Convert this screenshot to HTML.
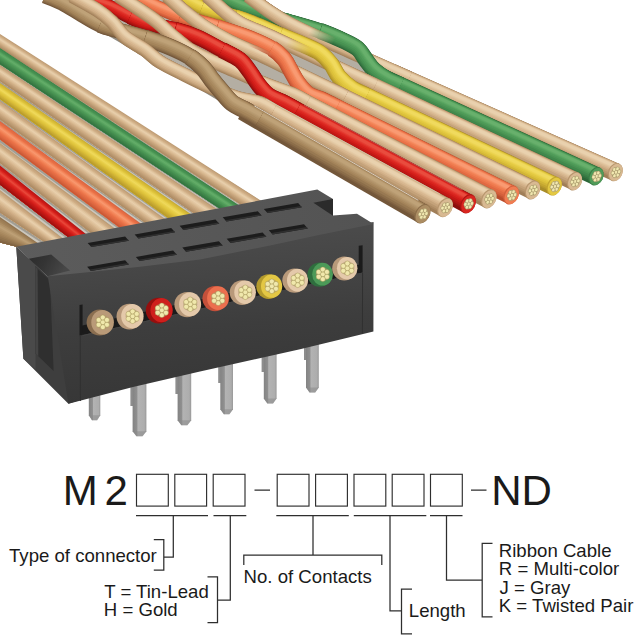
<!DOCTYPE html>
<html><head><meta charset="utf-8"><title>M2 ribbon cable</title>
<style>
html,body{margin:0;padding:0;background:#fff}
body{width:640px;height:640px;overflow:hidden}
svg{display:block}
text{font-family:"Liberation Sans",sans-serif;fill:#1a1a1a}
</style></head><body>
<svg width="640" height="640" viewBox="0 0 640 640">
<rect width="640" height="640" fill="#fff"/>
<g id="backcable">
<polygon points="50,0 262,0 300,22 385,62 300,132 236,108 150,56" fill="#b4aea3"/>
<polygon points="47,0 58,0 150,54 238,106 236,111 148,59" fill="#8f897e"/>
<defs><path id="w1" d="M392,72.7L615.3,172.1"/></defs><g fill="none" stroke-linecap="butt" stroke-linejoin="round"><use href="#w1" stroke="#a07e58" stroke-width="18.2" transform="translate(0,0)"/><use href="#w1" stroke="#ac8a63" stroke-width="15.1" transform="translate(0.6,-1.2)"/><use href="#w1" stroke="#b8966e" stroke-width="13.6" transform="translate(0.9,-1.8)"/><use href="#w1" stroke="#c4a27a" stroke-width="11.5" transform="translate(1.3,-2.5)"/><use href="#w1" stroke="#d0ae86" stroke-width="9.3" transform="translate(1.7,-3.3)"/><use href="#w1" stroke="#d8b891" stroke-width="7.5" transform="translate(1.9,-3.7)"/><use href="#w1" stroke="#dfc29c" stroke-width="5.7" transform="translate(2.1,-4.2)"/><use href="#w1" stroke="#e4caa5" stroke-width="4.3" transform="translate(2.3,-4.5)"/><use href="#w1" stroke="#e9d1ae" stroke-width="3" transform="translate(2.4,-4.7)"/></g>
<g transform="translate(615.3,172.1) rotate(24)"><ellipse rx="7.2" ry="9.5" fill="#b8966e"/><ellipse cx="0.6" rx="6.5" ry="8.8" fill="#d8b992"/></g><g transform="translate(616,172.3) rotate(24) scale(0.8,1)"><circle r="5.6" fill="#b9a878"/><circle r="2" fill="#f1e8b0" stroke="#8a7a50" stroke-width="0.4"/><circle cx="3.3" cy="1.9" r="2" fill="#f1e8b0" stroke="#8a7a50" stroke-width="0.4"/><circle cx="0" cy="3.8" r="2" fill="#f1e8b0" stroke="#8a7a50" stroke-width="0.4"/><circle cx="-3.3" cy="1.9" r="2" fill="#f1e8b0" stroke="#8a7a50" stroke-width="0.4"/><circle cx="-3.3" cy="-1.9" r="2" fill="#f1e8b0" stroke="#8a7a50" stroke-width="0.4"/><circle cx="0" cy="-3.8" r="2" fill="#f1e8b0" stroke="#8a7a50" stroke-width="0.4"/><circle cx="3.3" cy="-1.9" r="2" fill="#f1e8b0" stroke="#8a7a50" stroke-width="0.4"/></g>
<defs><path id="w2" d="M248,-4C251.7,-1.3 263,7.3 270,12C277,16.7 281.5,19.5 290,24C298.5,28.5 310.8,34.1 321,38.7C331.2,43.4 338.7,46.6 351,52.1C363.3,57.6 385.3,67.4 395,71.7C404.7,76 406.7,76.9 409,77.9"/></defs><g fill="none" stroke-linecap="butt" stroke-linejoin="round"><use href="#w2" stroke="#a07e58" stroke-width="13.8" transform="translate(0,0)"/><use href="#w2" stroke="#ac8a63" stroke-width="13" transform="translate(0.1,-0.2)"/><use href="#w2" stroke="#b8966e" stroke-width="12" transform="translate(0.3,-0.5)"/><use href="#w2" stroke="#c4a27a" stroke-width="10.8" transform="translate(0.4,-0.9)"/><use href="#w2" stroke="#d0ae86" stroke-width="9.6" transform="translate(0.6,-1.2)"/><use href="#w2" stroke="#d8b891" stroke-width="7.7" transform="translate(0.9,-1.7)"/><use href="#w2" stroke="#dfc29c" stroke-width="5.9" transform="translate(1.1,-2.2)"/><use href="#w2" stroke="#e4caa5" stroke-width="4.4" transform="translate(1.2,-2.5)"/><use href="#w2" stroke="#e9d1ae" stroke-width="2.9" transform="translate(1.3,-2.6)"/></g>
<defs><path id="w3" d="M384,78.7L596,176.2"/></defs><g fill="none" stroke-linecap="butt" stroke-linejoin="round"><use href="#w3" stroke="#2c6638" stroke-width="18.4" transform="translate(0,0)"/><use href="#w3" stroke="#33723f" stroke-width="15.3" transform="translate(0.6,-1.2)"/><use href="#w3" stroke="#3a7d46" stroke-width="13.7" transform="translate(0.9,-1.8)"/><use href="#w3" stroke="#41884c" stroke-width="11.6" transform="translate(1.3,-2.5)"/><use href="#w3" stroke="#489252" stroke-width="9.4" transform="translate(1.7,-3.3)"/><use href="#w3" stroke="#4f9a58" stroke-width="7.6" transform="translate(1.9,-3.8)"/><use href="#w3" stroke="#56a25e" stroke-width="5.7" transform="translate(2.2,-4.3)"/><use href="#w3" stroke="#5fa965" stroke-width="4.4" transform="translate(2.3,-4.5)"/><use href="#w3" stroke="#68b06c" stroke-width="3" transform="translate(2.4,-4.8)"/></g>
<g transform="translate(596,176.2) rotate(24.7)"><ellipse rx="7.2" ry="9.6" fill="#3a7d46"/><ellipse cx="0.6" rx="6.5" ry="8.9" fill="#509b59"/></g><g transform="translate(596.7,176.4) rotate(24.7) scale(0.8,1)"><circle r="5.6" fill="#b9a878"/><circle r="2" fill="#f1e8b0" stroke="#8a7a50" stroke-width="0.4"/><circle cx="3.3" cy="1.9" r="2" fill="#f1e8b0" stroke="#8a7a50" stroke-width="0.4"/><circle cx="0" cy="3.8" r="2" fill="#f1e8b0" stroke="#8a7a50" stroke-width="0.4"/><circle cx="-3.3" cy="1.9" r="2" fill="#f1e8b0" stroke="#8a7a50" stroke-width="0.4"/><circle cx="-3.3" cy="-1.9" r="2" fill="#f1e8b0" stroke="#8a7a50" stroke-width="0.4"/><circle cx="0" cy="-3.8" r="2" fill="#f1e8b0" stroke="#8a7a50" stroke-width="0.4"/><circle cx="3.3" cy="-1.9" r="2" fill="#f1e8b0" stroke="#8a7a50" stroke-width="0.4"/></g>
<defs><path id="w4" d="M222,-3C225.3,-1.5 235.3,3.4 242,6C248.7,8.6 254.8,10.1 262,12.5C269.2,14.9 275.3,17.4 285,20.5"/></defs><g fill="none" stroke-linecap="butt" stroke-linejoin="round"><use href="#w4" stroke="#2c6638" stroke-width="13.8" transform="translate(0,0)"/><use href="#w4" stroke="#33723f" stroke-width="13" transform="translate(0.1,-0.2)"/><use href="#w4" stroke="#3a7d46" stroke-width="12" transform="translate(0.3,-0.5)"/><use href="#w4" stroke="#41884c" stroke-width="10.8" transform="translate(0.4,-0.9)"/><use href="#w4" stroke="#489252" stroke-width="9.6" transform="translate(0.6,-1.2)"/><use href="#w4" stroke="#4f9a58" stroke-width="7.7" transform="translate(0.9,-1.7)"/><use href="#w4" stroke="#56a25e" stroke-width="5.9" transform="translate(1.1,-2.2)"/><use href="#w4" stroke="#5fa965" stroke-width="4.4" transform="translate(1.2,-2.5)"/><use href="#w4" stroke="#68b06c" stroke-width="2.9" transform="translate(1.3,-2.6)"/></g>
<defs><path id="w5" d="M262,12.5C269.2,14.9 275.3,17.4 285,20.5C294.7,23.6 310,27.5 320,31"/></defs><g fill="none" stroke-linecap="butt" stroke-linejoin="round"><use href="#w5" stroke="#2c6638" stroke-width="14.6" transform="translate(0,0)"/><use href="#w5" stroke="#33723f" stroke-width="13.7" transform="translate(0.1,-0.3)"/><use href="#w5" stroke="#3a7d46" stroke-width="12.7" transform="translate(0.3,-0.6)"/><use href="#w5" stroke="#41884c" stroke-width="11.4" transform="translate(0.5,-0.9)"/><use href="#w5" stroke="#489252" stroke-width="10.1" transform="translate(0.6,-1.3)"/><use href="#w5" stroke="#4f9a58" stroke-width="8.2" transform="translate(0.9,-1.8)"/><use href="#w5" stroke="#56a25e" stroke-width="6.3" transform="translate(1.2,-2.3)"/><use href="#w5" stroke="#5fa965" stroke-width="4.7" transform="translate(1.3,-2.6)"/><use href="#w5" stroke="#68b06c" stroke-width="3.1" transform="translate(1.4,-2.8)"/></g>
<defs><path id="w6" d="M285,20.5C294.7,23.6 310,27.5 320,31C330,34.5 338.7,38.5 345,41.5"/></defs><g fill="none" stroke-linecap="butt" stroke-linejoin="round"><use href="#w6" stroke="#2c6638" stroke-width="15.4" transform="translate(0,0)"/><use href="#w6" stroke="#33723f" stroke-width="14.5" transform="translate(0.1,-0.3)"/><use href="#w6" stroke="#3a7d46" stroke-width="13.4" transform="translate(0.3,-0.6)"/><use href="#w6" stroke="#41884c" stroke-width="12" transform="translate(0.5,-1)"/><use href="#w6" stroke="#489252" stroke-width="10.7" transform="translate(0.7,-1.3)"/><use href="#w6" stroke="#4f9a58" stroke-width="8.6" transform="translate(1,-1.9)"/><use href="#w6" stroke="#56a25e" stroke-width="6.6" transform="translate(1.2,-2.4)"/><use href="#w6" stroke="#5fa965" stroke-width="4.9" transform="translate(1.4,-2.7)"/><use href="#w6" stroke="#68b06c" stroke-width="3.2" transform="translate(1.5,-2.9)"/></g>
<defs><path id="w7" d="M320,31C330,34.5 338.7,38.5 345,41.5C351.3,44.5 354.5,45.9 358,49C361.5,52.1 363.3,56.5 366,60C368.7,63.5 370.6,66.9 374,70C377.4,73.1 382.1,76.2 386.5,78.7C390.9,81.2 398.2,84 400.5,85.1"/></defs><g fill="none" stroke-linecap="butt" stroke-linejoin="round"><use href="#w7" stroke="#2c6638" stroke-width="16.2" transform="translate(0,0)"/><use href="#w7" stroke="#33723f" stroke-width="15.2" transform="translate(0.1,-0.3)"/><use href="#w7" stroke="#3a7d46" stroke-width="14.1" transform="translate(0.3,-0.6)"/><use href="#w7" stroke="#41884c" stroke-width="12.7" transform="translate(0.5,-1)"/><use href="#w7" stroke="#489252" stroke-width="11.2" transform="translate(0.7,-1.4)"/><use href="#w7" stroke="#4f9a58" stroke-width="9.1" transform="translate(1,-2)"/><use href="#w7" stroke="#56a25e" stroke-width="6.9" transform="translate(1.3,-2.6)"/><use href="#w7" stroke="#5fa965" stroke-width="5.2" transform="translate(1.5,-2.9)"/><use href="#w7" stroke="#68b06c" stroke-width="3.4" transform="translate(1.6,-3.1)"/></g>
<defs><linearGradient id="og1" gradientUnits="userSpaceOnUse" x1="309" y1="33" x2="333" y2="44.1"><stop offset="0" stop-color="#fff"/><stop offset="1" stop-color="#000"/></linearGradient><mask id="ov1" maskUnits="userSpaceOnUse" x="0" y="-10" width="420" height="220"><rect x="0" y="-10" width="420" height="220" fill="url(#og1)"/></mask></defs>
<g fill="none" stroke-linecap="butt" stroke-linejoin="round" mask="url(#ov1)"><use href="#w2" stroke="#a07e58" stroke-width="13.8" transform="translate(0,0)"/><use href="#w2" stroke="#ac8a63" stroke-width="13" transform="translate(0.1,-0.2)"/><use href="#w2" stroke="#b8966e" stroke-width="12" transform="translate(0.3,-0.5)"/><use href="#w2" stroke="#c4a27a" stroke-width="10.8" transform="translate(0.4,-0.9)"/><use href="#w2" stroke="#d0ae86" stroke-width="9.6" transform="translate(0.6,-1.2)"/><use href="#w2" stroke="#d8b891" stroke-width="7.7" transform="translate(0.9,-1.7)"/><use href="#w2" stroke="#dfc29c" stroke-width="5.9" transform="translate(1.1,-2.2)"/><use href="#w2" stroke="#e4caa5" stroke-width="4.4" transform="translate(1.2,-2.5)"/><use href="#w2" stroke="#e9d1ae" stroke-width="2.9" transform="translate(1.3,-2.6)"/></g>
<defs><path id="w8" d="M358,79.9L574.5,181.2"/></defs><g fill="none" stroke-linecap="butt" stroke-linejoin="round"><use href="#w8" stroke="#a07e58" stroke-width="18.6" transform="translate(0,0)"/><use href="#w8" stroke="#ac8a63" stroke-width="15.5" transform="translate(0.6,-1.3)"/><use href="#w8" stroke="#b8966e" stroke-width="13.9" transform="translate(0.9,-1.8)"/><use href="#w8" stroke="#c4a27a" stroke-width="11.7" transform="translate(1.3,-2.6)"/><use href="#w8" stroke="#d0ae86" stroke-width="9.5" transform="translate(1.7,-3.4)"/><use href="#w8" stroke="#d8b891" stroke-width="7.6" transform="translate(1.9,-3.8)"/><use href="#w8" stroke="#dfc29c" stroke-width="5.8" transform="translate(2.2,-4.3)"/><use href="#w8" stroke="#e4caa5" stroke-width="4.4" transform="translate(2.3,-4.6)"/><use href="#w8" stroke="#e9d1ae" stroke-width="3.1" transform="translate(2.4,-4.8)"/></g>
<g transform="translate(574.5,181.2) rotate(25.1)"><ellipse rx="7.2" ry="9.7" fill="#b8966e"/><ellipse cx="0.6" rx="6.5" ry="9" fill="#d8b992"/></g><g transform="translate(575.2,181.4) rotate(25.1) scale(0.8,1)"><circle r="5.6" fill="#b9a878"/><circle r="2" fill="#f1e8b0" stroke="#8a7a50" stroke-width="0.4"/><circle cx="3.3" cy="1.9" r="2" fill="#f1e8b0" stroke="#8a7a50" stroke-width="0.4"/><circle cx="0" cy="3.8" r="2" fill="#f1e8b0" stroke="#8a7a50" stroke-width="0.4"/><circle cx="-3.3" cy="1.9" r="2" fill="#f1e8b0" stroke="#8a7a50" stroke-width="0.4"/><circle cx="-3.3" cy="-1.9" r="2" fill="#f1e8b0" stroke="#8a7a50" stroke-width="0.4"/><circle cx="0" cy="-3.8" r="2" fill="#f1e8b0" stroke="#8a7a50" stroke-width="0.4"/><circle cx="3.3" cy="-1.9" r="2" fill="#f1e8b0" stroke="#8a7a50" stroke-width="0.4"/></g>
<defs><path id="w9" d="M207,-4C210,-1.3 219.2,7.3 225,12C230.8,16.7 234.8,20.1 242,24C249.2,27.9 256.6,30 268.1,35.2C279.6,40.4 295.6,48.1 311.1,55.3C326.6,62.6 350.4,73.7 361.1,78.7C371.7,83.7 372.7,84.2 375.1,85.3"/></defs><g fill="none" stroke-linecap="butt" stroke-linejoin="round"><use href="#w9" stroke="#a07e58" stroke-width="13.8" transform="translate(0,0)"/><use href="#w9" stroke="#ac8a63" stroke-width="13" transform="translate(0.1,-0.2)"/><use href="#w9" stroke="#b8966e" stroke-width="12" transform="translate(0.3,-0.5)"/><use href="#w9" stroke="#c4a27a" stroke-width="10.8" transform="translate(0.4,-0.9)"/><use href="#w9" stroke="#d0ae86" stroke-width="9.6" transform="translate(0.6,-1.2)"/><use href="#w9" stroke="#d8b891" stroke-width="7.7" transform="translate(0.9,-1.7)"/><use href="#w9" stroke="#dfc29c" stroke-width="5.9" transform="translate(1.1,-2.2)"/><use href="#w9" stroke="#e4caa5" stroke-width="4.4" transform="translate(1.2,-2.5)"/><use href="#w9" stroke="#e9d1ae" stroke-width="2.9" transform="translate(1.3,-2.6)"/></g>
<defs><path id="w10" d="M350,89.2L554.2,186.2"/></defs><g fill="none" stroke-linecap="butt" stroke-linejoin="round"><use href="#w10" stroke="#a88c28" stroke-width="18.8" transform="translate(0,0)"/><use href="#w10" stroke="#b6992c" stroke-width="15.6" transform="translate(0.6,-1.3)"/><use href="#w10" stroke="#c4a630" stroke-width="14" transform="translate(0.9,-1.8)"/><use href="#w10" stroke="#d0b335" stroke-width="11.9" transform="translate(1.3,-2.6)"/><use href="#w10" stroke="#dcc03a" stroke-width="9.6" transform="translate(1.7,-3.4)"/><use href="#w10" stroke="#e2c841" stroke-width="7.7" transform="translate(2,-3.9)"/><use href="#w10" stroke="#e8cf48" stroke-width="5.8" transform="translate(2.2,-4.4)"/><use href="#w10" stroke="#ecd453" stroke-width="4.5" transform="translate(2.3,-4.6)"/><use href="#w10" stroke="#f0da5e" stroke-width="3.1" transform="translate(2.5,-4.9)"/></g>
<g transform="translate(554.2,186.2) rotate(25.4)"><ellipse rx="7.2" ry="9.8" fill="#c4a630"/><ellipse cx="0.6" rx="6.5" ry="9.1" fill="#e3c842"/></g><g transform="translate(555,186.4) rotate(25.4) scale(0.8,1)"><circle r="5.6" fill="#b9a878"/><circle r="2" fill="#f1e8b0" stroke="#8a7a50" stroke-width="0.4"/><circle cx="3.3" cy="1.9" r="2" fill="#f1e8b0" stroke="#8a7a50" stroke-width="0.4"/><circle cx="0" cy="3.8" r="2" fill="#f1e8b0" stroke="#8a7a50" stroke-width="0.4"/><circle cx="-3.3" cy="1.9" r="2" fill="#f1e8b0" stroke="#8a7a50" stroke-width="0.4"/><circle cx="-3.3" cy="-1.9" r="2" fill="#f1e8b0" stroke="#8a7a50" stroke-width="0.4"/><circle cx="0" cy="-3.8" r="2" fill="#f1e8b0" stroke="#8a7a50" stroke-width="0.4"/><circle cx="3.3" cy="-1.9" r="2" fill="#f1e8b0" stroke="#8a7a50" stroke-width="0.4"/></g>
<defs><path id="w11" d="M178,-4C179.5,-3.3 183,-1.9 187,0C191,1.9 197,5.5 202,7.5C207,9.5 211.5,10.4 217,12"/></defs><g fill="none" stroke-linecap="butt" stroke-linejoin="round"><use href="#w11" stroke="#a88c28" stroke-width="13.8" transform="translate(0,0)"/><use href="#w11" stroke="#b6992c" stroke-width="13" transform="translate(0.1,-0.2)"/><use href="#w11" stroke="#c4a630" stroke-width="12" transform="translate(0.3,-0.5)"/><use href="#w11" stroke="#d0b335" stroke-width="10.8" transform="translate(0.4,-0.9)"/><use href="#w11" stroke="#dcc03a" stroke-width="9.6" transform="translate(0.6,-1.2)"/><use href="#w11" stroke="#e2c841" stroke-width="7.7" transform="translate(0.9,-1.7)"/><use href="#w11" stroke="#e8cf48" stroke-width="5.9" transform="translate(1.1,-2.2)"/><use href="#w11" stroke="#ecd453" stroke-width="4.4" transform="translate(1.2,-2.5)"/><use href="#w11" stroke="#f0da5e" stroke-width="2.9" transform="translate(1.3,-2.6)"/></g>
<defs><path id="w12" d="M202,7.5C207,9.5 211.5,10.4 217,12C222.5,13.6 229.2,15.2 235,17C240.8,18.8 244.5,20 252,23"/></defs><g fill="none" stroke-linecap="butt" stroke-linejoin="round"><use href="#w12" stroke="#a88c28" stroke-width="14.6" transform="translate(0,0)"/><use href="#w12" stroke="#b6992c" stroke-width="13.7" transform="translate(0.1,-0.3)"/><use href="#w12" stroke="#c4a630" stroke-width="12.7" transform="translate(0.3,-0.6)"/><use href="#w12" stroke="#d0b335" stroke-width="11.4" transform="translate(0.5,-0.9)"/><use href="#w12" stroke="#dcc03a" stroke-width="10.1" transform="translate(0.6,-1.3)"/><use href="#w12" stroke="#e2c841" stroke-width="8.2" transform="translate(0.9,-1.8)"/><use href="#w12" stroke="#e8cf48" stroke-width="6.3" transform="translate(1.2,-2.3)"/><use href="#w12" stroke="#ecd453" stroke-width="4.7" transform="translate(1.3,-2.6)"/><use href="#w12" stroke="#f0da5e" stroke-width="3.1" transform="translate(1.4,-2.8)"/></g>
<defs><path id="w13" d="M235,17C240.8,18.8 244.5,20 252,23C259.5,26 271.2,31.2 280,35C288.8,38.8 298.3,42.5 305,45.5"/></defs><g fill="none" stroke-linecap="butt" stroke-linejoin="round"><use href="#w13" stroke="#a88c28" stroke-width="15.4" transform="translate(0,0)"/><use href="#w13" stroke="#b6992c" stroke-width="14.5" transform="translate(0.1,-0.3)"/><use href="#w13" stroke="#c4a630" stroke-width="13.4" transform="translate(0.3,-0.6)"/><use href="#w13" stroke="#d0b335" stroke-width="12" transform="translate(0.5,-1)"/><use href="#w13" stroke="#dcc03a" stroke-width="10.7" transform="translate(0.7,-1.3)"/><use href="#w13" stroke="#e2c841" stroke-width="8.6" transform="translate(1,-1.9)"/><use href="#w13" stroke="#e8cf48" stroke-width="6.6" transform="translate(1.2,-2.4)"/><use href="#w13" stroke="#ecd453" stroke-width="4.9" transform="translate(1.4,-2.7)"/><use href="#w13" stroke="#f0da5e" stroke-width="3.2" transform="translate(1.5,-2.9)"/></g>
<defs><path id="w14" d="M280,35C288.8,38.8 298.3,42.5 305,45.5C311.7,48.5 315.7,49.9 320,53C324.3,56.1 327.8,60 331,64C334.2,68 335.4,72.8 339,77C342.6,81.2 348,85.9 352.6,89C357.2,92.1 364.3,94.6 366.6,95.7"/></defs><g fill="none" stroke-linecap="butt" stroke-linejoin="round"><use href="#w14" stroke="#a88c28" stroke-width="16.2" transform="translate(0,0)"/><use href="#w14" stroke="#b6992c" stroke-width="15.2" transform="translate(0.1,-0.3)"/><use href="#w14" stroke="#c4a630" stroke-width="14.1" transform="translate(0.3,-0.6)"/><use href="#w14" stroke="#d0b335" stroke-width="12.7" transform="translate(0.5,-1)"/><use href="#w14" stroke="#dcc03a" stroke-width="11.2" transform="translate(0.7,-1.4)"/><use href="#w14" stroke="#e2c841" stroke-width="9.1" transform="translate(1,-2)"/><use href="#w14" stroke="#e8cf48" stroke-width="6.9" transform="translate(1.3,-2.6)"/><use href="#w14" stroke="#ecd453" stroke-width="5.2" transform="translate(1.5,-2.9)"/><use href="#w14" stroke="#f0da5e" stroke-width="3.4" transform="translate(1.6,-3.1)"/></g>
<defs><linearGradient id="og2" gradientUnits="userSpaceOnUse" x1="286" y1="43.6" x2="310" y2="54.8"><stop offset="0" stop-color="#fff"/><stop offset="1" stop-color="#000"/></linearGradient><mask id="ov2" maskUnits="userSpaceOnUse" x="0" y="-10" width="420" height="220"><rect x="0" y="-10" width="420" height="220" fill="url(#og2)"/></mask></defs>
<g fill="none" stroke-linecap="butt" stroke-linejoin="round" mask="url(#ov2)"><use href="#w9" stroke="#a07e58" stroke-width="13.8" transform="translate(0,0)"/><use href="#w9" stroke="#ac8a63" stroke-width="13" transform="translate(0.1,-0.2)"/><use href="#w9" stroke="#b8966e" stroke-width="12" transform="translate(0.3,-0.5)"/><use href="#w9" stroke="#c4a27a" stroke-width="10.8" transform="translate(0.4,-0.9)"/><use href="#w9" stroke="#d0ae86" stroke-width="9.6" transform="translate(0.6,-1.2)"/><use href="#w9" stroke="#d8b891" stroke-width="7.7" transform="translate(0.9,-1.7)"/><use href="#w9" stroke="#dfc29c" stroke-width="5.9" transform="translate(1.1,-2.2)"/><use href="#w9" stroke="#e4caa5" stroke-width="4.4" transform="translate(1.2,-2.5)"/><use href="#w9" stroke="#e9d1ae" stroke-width="2.9" transform="translate(1.3,-2.6)"/></g>
<defs><path id="w15" d="M328,90.8L532.5,190"/></defs><g fill="none" stroke-linecap="butt" stroke-linejoin="round"><use href="#w15" stroke="#a07e58" stroke-width="19" transform="translate(0,0)"/><use href="#w15" stroke="#ac8a63" stroke-width="15.8" transform="translate(0.6,-1.3)"/><use href="#w15" stroke="#b8966e" stroke-width="14.2" transform="translate(0.9,-1.9)"/><use href="#w15" stroke="#c4a27a" stroke-width="12" transform="translate(1.3,-2.6)"/><use href="#w15" stroke="#d0ae86" stroke-width="9.7" transform="translate(1.7,-3.4)"/><use href="#w15" stroke="#d8b891" stroke-width="7.8" transform="translate(2,-3.9)"/><use href="#w15" stroke="#dfc29c" stroke-width="5.9" transform="translate(2.2,-4.4)"/><use href="#w15" stroke="#e4caa5" stroke-width="4.5" transform="translate(2.4,-4.7)"/><use href="#w15" stroke="#e9d1ae" stroke-width="3.1" transform="translate(2.5,-4.9)"/></g>
<g transform="translate(532.5,190) rotate(25.9)"><ellipse rx="7.2" ry="9.9" fill="#b8966e"/><ellipse cx="0.6" rx="6.5" ry="9.2" fill="#d8b992"/></g><g transform="translate(533.2,190.2) rotate(25.9) scale(0.8,1)"><circle r="5.6" fill="#b9a878"/><circle r="2" fill="#f1e8b0" stroke="#8a7a50" stroke-width="0.4"/><circle cx="3.3" cy="1.9" r="2" fill="#f1e8b0" stroke="#8a7a50" stroke-width="0.4"/><circle cx="0" cy="3.8" r="2" fill="#f1e8b0" stroke="#8a7a50" stroke-width="0.4"/><circle cx="-3.3" cy="1.9" r="2" fill="#f1e8b0" stroke="#8a7a50" stroke-width="0.4"/><circle cx="-3.3" cy="-1.9" r="2" fill="#f1e8b0" stroke="#8a7a50" stroke-width="0.4"/><circle cx="0" cy="-3.8" r="2" fill="#f1e8b0" stroke="#8a7a50" stroke-width="0.4"/><circle cx="3.3" cy="-1.9" r="2" fill="#f1e8b0" stroke="#8a7a50" stroke-width="0.4"/></g>
<defs><path id="w16" d="M167,-4C170,-1.3 178.7,6.8 185,12C191.3,17.2 197.5,22.1 205,27C212.5,31.9 220.6,36.7 230,41.5C239.4,46.3 251,50.8 261.2,55.5C271.4,60.3 279.5,64.4 291.2,70.1C302.8,75.7 322.2,85.1 331.2,89.5C340.2,93.8 342.8,95.1 345.2,96.3"/></defs><g fill="none" stroke-linecap="butt" stroke-linejoin="round"><use href="#w16" stroke="#a07e58" stroke-width="13.8" transform="translate(0,0)"/><use href="#w16" stroke="#ac8a63" stroke-width="13" transform="translate(0.1,-0.2)"/><use href="#w16" stroke="#b8966e" stroke-width="12" transform="translate(0.3,-0.5)"/><use href="#w16" stroke="#c4a27a" stroke-width="10.8" transform="translate(0.4,-0.9)"/><use href="#w16" stroke="#d0ae86" stroke-width="9.6" transform="translate(0.6,-1.2)"/><use href="#w16" stroke="#d8b891" stroke-width="7.7" transform="translate(0.9,-1.7)"/><use href="#w16" stroke="#dfc29c" stroke-width="5.9" transform="translate(1.1,-2.2)"/><use href="#w16" stroke="#e4caa5" stroke-width="4.4" transform="translate(1.2,-2.5)"/><use href="#w16" stroke="#e9d1ae" stroke-width="2.9" transform="translate(1.3,-2.6)"/></g>
<defs><path id="w17" d="M320,100.5L511.2,195"/></defs><g fill="none" stroke-linecap="butt" stroke-linejoin="round"><use href="#w17" stroke="#b84c2c" stroke-width="19.2" transform="translate(0,0)"/><use href="#w17" stroke="#c65634" stroke-width="16" transform="translate(0.7,-1.3)"/><use href="#w17" stroke="#d4603c" stroke-width="14.3" transform="translate(1,-1.9)"/><use href="#w17" stroke="#df6942" stroke-width="12.1" transform="translate(1.3,-2.7)"/><use href="#w17" stroke="#ea7248" stroke-width="9.8" transform="translate(1.7,-3.5)"/><use href="#w17" stroke="#ef7c51" stroke-width="7.9" transform="translate(2,-4)"/><use href="#w17" stroke="#f4865a" stroke-width="6" transform="translate(2.3,-4.5)"/><use href="#w17" stroke="#f69066" stroke-width="4.6" transform="translate(2.4,-4.7)"/><use href="#w17" stroke="#f99a72" stroke-width="3.1" transform="translate(2.5,-5)"/></g>
<g transform="translate(511.2,195) rotate(26.3)"><ellipse rx="7.2" ry="10" fill="#d4603c"/><ellipse cx="0.6" rx="6.5" ry="9.3" fill="#f07d52"/></g><g transform="translate(511.9,195.2) rotate(26.3) scale(0.8,1)"><circle r="5.6" fill="#b9a878"/><circle r="2" fill="#f1e8b0" stroke="#8a7a50" stroke-width="0.4"/><circle cx="3.3" cy="1.9" r="2" fill="#f1e8b0" stroke="#8a7a50" stroke-width="0.4"/><circle cx="0" cy="3.8" r="2" fill="#f1e8b0" stroke="#8a7a50" stroke-width="0.4"/><circle cx="-3.3" cy="1.9" r="2" fill="#f1e8b0" stroke="#8a7a50" stroke-width="0.4"/><circle cx="-3.3" cy="-1.9" r="2" fill="#f1e8b0" stroke="#8a7a50" stroke-width="0.4"/><circle cx="0" cy="-3.8" r="2" fill="#f1e8b0" stroke="#8a7a50" stroke-width="0.4"/><circle cx="3.3" cy="-1.9" r="2" fill="#f1e8b0" stroke="#8a7a50" stroke-width="0.4"/></g>
<defs><path id="w18" d="M133,-4C137.5,-1.9 152.2,5.1 160,8.5C167.8,11.9 173.3,14.2 180,16.5C186.7,18.8 193.8,20.2 200,22"/></defs><g fill="none" stroke-linecap="butt" stroke-linejoin="round"><use href="#w18" stroke="#b84c2c" stroke-width="13.8" transform="translate(0,0)"/><use href="#w18" stroke="#c65634" stroke-width="13" transform="translate(0.1,-0.2)"/><use href="#w18" stroke="#d4603c" stroke-width="12" transform="translate(0.3,-0.5)"/><use href="#w18" stroke="#df6942" stroke-width="10.8" transform="translate(0.4,-0.9)"/><use href="#w18" stroke="#ea7248" stroke-width="9.6" transform="translate(0.6,-1.2)"/><use href="#w18" stroke="#ef7c51" stroke-width="7.7" transform="translate(0.9,-1.7)"/><use href="#w18" stroke="#f4865a" stroke-width="5.9" transform="translate(1.1,-2.2)"/><use href="#w18" stroke="#f69066" stroke-width="4.4" transform="translate(1.2,-2.5)"/><use href="#w18" stroke="#f99a72" stroke-width="2.9" transform="translate(1.3,-2.6)"/></g>
<defs><path id="w19" d="M180,16.5C186.7,18.8 193.8,20.2 200,22C206.2,23.8 209.2,24.5 217,27C224.8,29.5 237.8,33.4 247,37"/></defs><g fill="none" stroke-linecap="butt" stroke-linejoin="round"><use href="#w19" stroke="#b84c2c" stroke-width="14.6" transform="translate(0,0)"/><use href="#w19" stroke="#c65634" stroke-width="13.7" transform="translate(0.1,-0.3)"/><use href="#w19" stroke="#d4603c" stroke-width="12.7" transform="translate(0.3,-0.6)"/><use href="#w19" stroke="#df6942" stroke-width="11.4" transform="translate(0.5,-0.9)"/><use href="#w19" stroke="#ea7248" stroke-width="10.1" transform="translate(0.6,-1.3)"/><use href="#w19" stroke="#ef7c51" stroke-width="8.2" transform="translate(0.9,-1.8)"/><use href="#w19" stroke="#f4865a" stroke-width="6.3" transform="translate(1.2,-2.3)"/><use href="#w19" stroke="#f69066" stroke-width="4.7" transform="translate(1.3,-2.6)"/><use href="#w19" stroke="#f99a72" stroke-width="3.1" transform="translate(1.4,-2.8)"/></g>
<defs><path id="w20" d="M217,27C224.8,29.5 237.8,33.4 247,37C256.2,40.6 265.8,44.8 272,48.5C278.2,52.2 280.8,55.2 284,59"/></defs><g fill="none" stroke-linecap="butt" stroke-linejoin="round"><use href="#w20" stroke="#b84c2c" stroke-width="15.4" transform="translate(0,0)"/><use href="#w20" stroke="#c65634" stroke-width="14.5" transform="translate(0.1,-0.3)"/><use href="#w20" stroke="#d4603c" stroke-width="13.4" transform="translate(0.3,-0.6)"/><use href="#w20" stroke="#df6942" stroke-width="12" transform="translate(0.5,-1)"/><use href="#w20" stroke="#ea7248" stroke-width="10.7" transform="translate(0.7,-1.3)"/><use href="#w20" stroke="#ef7c51" stroke-width="8.6" transform="translate(1,-1.9)"/><use href="#w20" stroke="#f4865a" stroke-width="6.6" transform="translate(1.2,-2.4)"/><use href="#w20" stroke="#f69066" stroke-width="4.9" transform="translate(1.4,-2.7)"/><use href="#w20" stroke="#f99a72" stroke-width="3.2" transform="translate(1.5,-2.9)"/></g>
<defs><path id="w21" d="M272,48.5C278.2,52.2 280.8,55.2 284,59C287.2,62.8 288.7,67 291,71C293.3,75 295.2,79.2 298,83C300.8,86.8 303.9,91.1 308,94C312.1,96.9 317.9,98 322.7,100.2C327.5,102.4 334.3,105.9 336.7,107.1"/></defs><g fill="none" stroke-linecap="butt" stroke-linejoin="round"><use href="#w21" stroke="#b84c2c" stroke-width="16.2" transform="translate(0,0)"/><use href="#w21" stroke="#c65634" stroke-width="15.2" transform="translate(0.1,-0.3)"/><use href="#w21" stroke="#d4603c" stroke-width="14.1" transform="translate(0.3,-0.6)"/><use href="#w21" stroke="#df6942" stroke-width="12.7" transform="translate(0.5,-1)"/><use href="#w21" stroke="#ea7248" stroke-width="11.2" transform="translate(0.7,-1.4)"/><use href="#w21" stroke="#ef7c51" stroke-width="9.1" transform="translate(1,-2)"/><use href="#w21" stroke="#f4865a" stroke-width="6.9" transform="translate(1.3,-2.6)"/><use href="#w21" stroke="#f69066" stroke-width="5.2" transform="translate(1.5,-2.9)"/><use href="#w21" stroke="#f99a72" stroke-width="3.4" transform="translate(1.6,-3.1)"/></g>
<defs><linearGradient id="og3" gradientUnits="userSpaceOnUse" x1="246" y1="48.7" x2="270" y2="59.8"><stop offset="0" stop-color="#fff"/><stop offset="1" stop-color="#000"/></linearGradient><mask id="ov3" maskUnits="userSpaceOnUse" x="0" y="-10" width="420" height="220"><rect x="0" y="-10" width="420" height="220" fill="url(#og3)"/></mask></defs>
<g fill="none" stroke-linecap="butt" stroke-linejoin="round" mask="url(#ov3)"><use href="#w16" stroke="#a07e58" stroke-width="13.8" transform="translate(0,0)"/><use href="#w16" stroke="#ac8a63" stroke-width="13" transform="translate(0.1,-0.2)"/><use href="#w16" stroke="#b8966e" stroke-width="12" transform="translate(0.3,-0.5)"/><use href="#w16" stroke="#c4a27a" stroke-width="10.8" transform="translate(0.4,-0.9)"/><use href="#w16" stroke="#d0ae86" stroke-width="9.6" transform="translate(0.6,-1.2)"/><use href="#w16" stroke="#d8b891" stroke-width="7.7" transform="translate(0.9,-1.7)"/><use href="#w16" stroke="#dfc29c" stroke-width="5.9" transform="translate(1.1,-2.2)"/><use href="#w16" stroke="#e4caa5" stroke-width="4.4" transform="translate(1.2,-2.5)"/><use href="#w16" stroke="#e9d1ae" stroke-width="2.9" transform="translate(1.3,-2.6)"/></g>
<defs><path id="w22" d="M290,96L488.8,198.8"/></defs><g fill="none" stroke-linecap="butt" stroke-linejoin="round"><use href="#w22" stroke="#a07e58" stroke-width="19.4" transform="translate(0,0)"/><use href="#w22" stroke="#ac8a63" stroke-width="16.1" transform="translate(0.7,-1.3)"/><use href="#w22" stroke="#b8966e" stroke-width="14.5" transform="translate(1,-1.9)"/><use href="#w22" stroke="#c4a27a" stroke-width="12.2" transform="translate(1.4,-2.7)"/><use href="#w22" stroke="#d0ae86" stroke-width="9.9" transform="translate(1.8,-3.5)"/><use href="#w22" stroke="#d8b891" stroke-width="8" transform="translate(2,-4)"/><use href="#w22" stroke="#dfc29c" stroke-width="6" transform="translate(2.3,-4.5)"/><use href="#w22" stroke="#e4caa5" stroke-width="4.6" transform="translate(2.4,-4.8)"/><use href="#w22" stroke="#e9d1ae" stroke-width="3.2" transform="translate(2.5,-5)"/></g>
<g transform="translate(488.8,198.8) rotate(27.3)"><ellipse rx="7.2" ry="10.1" fill="#b8966e"/><ellipse cx="0.6" rx="6.5" ry="9.4" fill="#d8b992"/></g><g transform="translate(489.4,198.9) rotate(27.3) scale(0.8,1)"><circle r="5.6" fill="#b9a878"/><circle r="2" fill="#f1e8b0" stroke="#8a7a50" stroke-width="0.4"/><circle cx="3.3" cy="1.9" r="2" fill="#f1e8b0" stroke="#8a7a50" stroke-width="0.4"/><circle cx="0" cy="3.8" r="2" fill="#f1e8b0" stroke="#8a7a50" stroke-width="0.4"/><circle cx="-3.3" cy="1.9" r="2" fill="#f1e8b0" stroke="#8a7a50" stroke-width="0.4"/><circle cx="-3.3" cy="-1.9" r="2" fill="#f1e8b0" stroke="#8a7a50" stroke-width="0.4"/><circle cx="0" cy="-3.8" r="2" fill="#f1e8b0" stroke="#8a7a50" stroke-width="0.4"/><circle cx="3.3" cy="-1.9" r="2" fill="#f1e8b0" stroke="#8a7a50" stroke-width="0.4"/></g>
<defs><path id="w23" d="M118,-4C121.7,-1.7 133.5,5.7 140,10C146.5,14.3 151.2,17.3 157,22C162.8,26.7 168.3,32.7 175,38C181.7,43.3 187,48.5 197,54C207,59.5 224.5,66.3 235,71C245.5,75.7 250.3,78.1 260,82C269.7,85.9 285.4,91.2 293.3,94.5C301.1,97.8 304.9,100.6 307.3,101.8"/></defs><g fill="none" stroke-linecap="butt" stroke-linejoin="round"><use href="#w23" stroke="#a07e58" stroke-width="13.8" transform="translate(0,0)"/><use href="#w23" stroke="#ac8a63" stroke-width="13" transform="translate(0.1,-0.2)"/><use href="#w23" stroke="#b8966e" stroke-width="12" transform="translate(0.3,-0.5)"/><use href="#w23" stroke="#c4a27a" stroke-width="10.8" transform="translate(0.4,-0.9)"/><use href="#w23" stroke="#d0ae86" stroke-width="9.6" transform="translate(0.6,-1.2)"/><use href="#w23" stroke="#d8b891" stroke-width="7.7" transform="translate(0.9,-1.7)"/><use href="#w23" stroke="#dfc29c" stroke-width="5.9" transform="translate(1.1,-2.2)"/><use href="#w23" stroke="#e4caa5" stroke-width="4.4" transform="translate(1.2,-2.5)"/><use href="#w23" stroke="#e9d1ae" stroke-width="2.9" transform="translate(1.3,-2.6)"/></g>
<defs><path id="w24" d="M280,102.8L468,203.8"/></defs><g fill="none" stroke-linecap="butt" stroke-linejoin="round"><use href="#w24" stroke="#8a0e0c" stroke-width="19.6" transform="translate(0,0)"/><use href="#w24" stroke="#9d110f" stroke-width="16.3" transform="translate(0.7,-1.3)"/><use href="#w24" stroke="#b01412" stroke-width="14.6" transform="translate(1,-1.9)"/><use href="#w24" stroke="#c01815" stroke-width="12.4" transform="translate(1.4,-2.7)"/><use href="#w24" stroke="#d01c18" stroke-width="10" transform="translate(1.8,-3.5)"/><use href="#w24" stroke="#d8251f" stroke-width="8.1" transform="translate(2,-4)"/><use href="#w24" stroke="#e02e26" stroke-width="6.1" transform="translate(2.3,-4.5)"/><use href="#w24" stroke="#e43d32" stroke-width="4.6" transform="translate(2.4,-4.8)"/><use href="#w24" stroke="#e94c3e" stroke-width="3.2" transform="translate(2.6,-5.1)"/></g>
<g transform="translate(468,203.8) rotate(28.2)"><ellipse rx="7.2" ry="10.2" fill="#b01412"/><ellipse cx="0.6" rx="6.5" ry="9.5" fill="#d92620"/></g><g transform="translate(468.7,203.9) rotate(28.2) scale(0.8,1)"><circle r="5.6" fill="#b9a878"/><circle r="2" fill="#f1e8b0" stroke="#8a7a50" stroke-width="0.4"/><circle cx="3.3" cy="1.9" r="2" fill="#f1e8b0" stroke="#8a7a50" stroke-width="0.4"/><circle cx="0" cy="3.8" r="2" fill="#f1e8b0" stroke="#8a7a50" stroke-width="0.4"/><circle cx="-3.3" cy="1.9" r="2" fill="#f1e8b0" stroke="#8a7a50" stroke-width="0.4"/><circle cx="-3.3" cy="-1.9" r="2" fill="#f1e8b0" stroke="#8a7a50" stroke-width="0.4"/><circle cx="0" cy="-3.8" r="2" fill="#f1e8b0" stroke="#8a7a50" stroke-width="0.4"/><circle cx="3.3" cy="-1.9" r="2" fill="#f1e8b0" stroke="#8a7a50" stroke-width="0.4"/></g>
<defs><path id="w25" d="M84,-4C85,-3.3 85.7,-1.8 90,0C94.3,1.8 103.3,4.2 110,7C116.7,9.8 123.8,14.2 130,17C136.2,19.8 139.5,21.9 147,24"/></defs><g fill="none" stroke-linecap="butt" stroke-linejoin="round"><use href="#w25" stroke="#8a0e0c" stroke-width="13.8" transform="translate(0,0)"/><use href="#w25" stroke="#9d110f" stroke-width="13" transform="translate(0.1,-0.2)"/><use href="#w25" stroke="#b01412" stroke-width="12" transform="translate(0.3,-0.5)"/><use href="#w25" stroke="#c01815" stroke-width="10.8" transform="translate(0.4,-0.9)"/><use href="#w25" stroke="#d01c18" stroke-width="9.6" transform="translate(0.6,-1.2)"/><use href="#w25" stroke="#d8251f" stroke-width="7.7" transform="translate(0.9,-1.7)"/><use href="#w25" stroke="#e02e26" stroke-width="5.9" transform="translate(1.1,-2.2)"/><use href="#w25" stroke="#e43d32" stroke-width="4.4" transform="translate(1.2,-2.5)"/><use href="#w25" stroke="#e94c3e" stroke-width="2.9" transform="translate(1.3,-2.6)"/></g>
<defs><path id="w26" d="M130,17C136.2,19.8 139.5,21.9 147,24C154.5,26.1 166.7,27.3 175,29.5C183.3,31.7 189.2,33.6 197,37"/></defs><g fill="none" stroke-linecap="butt" stroke-linejoin="round"><use href="#w26" stroke="#8a0e0c" stroke-width="14.6" transform="translate(0,0)"/><use href="#w26" stroke="#9d110f" stroke-width="13.7" transform="translate(0.1,-0.3)"/><use href="#w26" stroke="#b01412" stroke-width="12.7" transform="translate(0.3,-0.6)"/><use href="#w26" stroke="#c01815" stroke-width="11.4" transform="translate(0.5,-0.9)"/><use href="#w26" stroke="#d01c18" stroke-width="10.1" transform="translate(0.6,-1.3)"/><use href="#w26" stroke="#d8251f" stroke-width="8.2" transform="translate(0.9,-1.8)"/><use href="#w26" stroke="#e02e26" stroke-width="6.3" transform="translate(1.2,-2.3)"/><use href="#w26" stroke="#e43d32" stroke-width="4.7" transform="translate(1.3,-2.6)"/><use href="#w26" stroke="#e94c3e" stroke-width="3.1" transform="translate(1.4,-2.8)"/></g>
<defs><path id="w27" d="M175,29.5C183.3,31.7 189.2,33.6 197,37C204.8,40.4 214.8,46.2 222,50C229.2,53.8 235.3,56.3 240,60"/></defs><g fill="none" stroke-linecap="butt" stroke-linejoin="round"><use href="#w27" stroke="#8a0e0c" stroke-width="15.4" transform="translate(0,0)"/><use href="#w27" stroke="#9d110f" stroke-width="14.5" transform="translate(0.1,-0.3)"/><use href="#w27" stroke="#b01412" stroke-width="13.4" transform="translate(0.3,-0.6)"/><use href="#w27" stroke="#c01815" stroke-width="12" transform="translate(0.5,-1)"/><use href="#w27" stroke="#d01c18" stroke-width="10.7" transform="translate(0.7,-1.3)"/><use href="#w27" stroke="#d8251f" stroke-width="8.6" transform="translate(1,-1.9)"/><use href="#w27" stroke="#e02e26" stroke-width="6.6" transform="translate(1.2,-2.4)"/><use href="#w27" stroke="#e43d32" stroke-width="4.9" transform="translate(1.4,-2.7)"/><use href="#w27" stroke="#e94c3e" stroke-width="3.2" transform="translate(1.5,-2.9)"/></g>
<defs><path id="w28" d="M222,50C229.2,53.8 235.3,56.3 240,60C244.7,63.7 247,68 250,72C253,76 255,80.2 258,84C261,87.8 263.9,91.9 268,95C272.1,98.1 278,99.9 282.8,102.4C287.6,104.8 294.4,108.6 296.8,109.9"/></defs><g fill="none" stroke-linecap="butt" stroke-linejoin="round"><use href="#w28" stroke="#8a0e0c" stroke-width="16.2" transform="translate(0,0)"/><use href="#w28" stroke="#9d110f" stroke-width="15.2" transform="translate(0.1,-0.3)"/><use href="#w28" stroke="#b01412" stroke-width="14.1" transform="translate(0.3,-0.6)"/><use href="#w28" stroke="#c01815" stroke-width="12.7" transform="translate(0.5,-1)"/><use href="#w28" stroke="#d01c18" stroke-width="11.2" transform="translate(0.7,-1.4)"/><use href="#w28" stroke="#d8251f" stroke-width="9.1" transform="translate(1,-2)"/><use href="#w28" stroke="#e02e26" stroke-width="6.9" transform="translate(1.3,-2.6)"/><use href="#w28" stroke="#e43d32" stroke-width="5.2" transform="translate(1.5,-2.9)"/><use href="#w28" stroke="#e94c3e" stroke-width="3.4" transform="translate(1.6,-3.1)"/></g>
<defs><linearGradient id="og4" gradientUnits="userSpaceOnUse" x1="184" y1="44.5" x2="208" y2="58.9"><stop offset="0" stop-color="#fff"/><stop offset="1" stop-color="#000"/></linearGradient><mask id="ov4" maskUnits="userSpaceOnUse" x="0" y="-10" width="420" height="220"><rect x="0" y="-10" width="420" height="220" fill="url(#og4)"/></mask></defs>
<g fill="none" stroke-linecap="butt" stroke-linejoin="round" mask="url(#ov4)"><use href="#w23" stroke="#a07e58" stroke-width="13.8" transform="translate(0,0)"/><use href="#w23" stroke="#ac8a63" stroke-width="13" transform="translate(0.1,-0.2)"/><use href="#w23" stroke="#b8966e" stroke-width="12" transform="translate(0.3,-0.5)"/><use href="#w23" stroke="#c4a27a" stroke-width="10.8" transform="translate(0.4,-0.9)"/><use href="#w23" stroke="#d0ae86" stroke-width="9.6" transform="translate(0.6,-1.2)"/><use href="#w23" stroke="#d8b891" stroke-width="7.7" transform="translate(0.9,-1.7)"/><use href="#w23" stroke="#dfc29c" stroke-width="5.9" transform="translate(1.1,-2.2)"/><use href="#w23" stroke="#e4caa5" stroke-width="4.4" transform="translate(1.2,-2.5)"/><use href="#w23" stroke="#e9d1ae" stroke-width="2.9" transform="translate(1.3,-2.6)"/></g>
<defs><path id="w29" d="M256,104.5L445,207.5"/></defs><g fill="none" stroke-linecap="butt" stroke-linejoin="round"><use href="#w29" stroke="#a07e58" stroke-width="19.8" transform="translate(0,0)"/><use href="#w29" stroke="#ac8a63" stroke-width="16.5" transform="translate(0.7,-1.3)"/><use href="#w29" stroke="#b8966e" stroke-width="14.8" transform="translate(1,-1.9)"/><use href="#w29" stroke="#c4a27a" stroke-width="12.5" transform="translate(1.4,-2.7)"/><use href="#w29" stroke="#d0ae86" stroke-width="10.1" transform="translate(1.8,-3.6)"/><use href="#w29" stroke="#d8b891" stroke-width="8.1" transform="translate(2.1,-4.1)"/><use href="#w29" stroke="#dfc29c" stroke-width="6.2" transform="translate(2.3,-4.6)"/><use href="#w29" stroke="#e4caa5" stroke-width="4.7" transform="translate(2.5,-4.9)"/><use href="#w29" stroke="#e9d1ae" stroke-width="3.2" transform="translate(2.6,-5.1)"/></g>
<g transform="translate(445,207.5) rotate(28.6)"><ellipse rx="7.2" ry="10.3" fill="#b8966e"/><ellipse cx="0.6" rx="6.5" ry="9.6" fill="#d8b992"/></g><g transform="translate(445.7,207.7) rotate(28.6) scale(0.8,1)"><circle r="5.6" fill="#b9a878"/><circle r="2" fill="#f1e8b0" stroke="#8a7a50" stroke-width="0.4"/><circle cx="3.3" cy="1.9" r="2" fill="#f1e8b0" stroke="#8a7a50" stroke-width="0.4"/><circle cx="0" cy="3.8" r="2" fill="#f1e8b0" stroke="#8a7a50" stroke-width="0.4"/><circle cx="-3.3" cy="1.9" r="2" fill="#f1e8b0" stroke="#8a7a50" stroke-width="0.4"/><circle cx="-3.3" cy="-1.9" r="2" fill="#f1e8b0" stroke="#8a7a50" stroke-width="0.4"/><circle cx="0" cy="-3.8" r="2" fill="#f1e8b0" stroke="#8a7a50" stroke-width="0.4"/><circle cx="3.3" cy="-1.9" r="2" fill="#f1e8b0" stroke="#8a7a50" stroke-width="0.4"/></g>
<defs><path id="w30" d="M72,-4C76.2,-1.7 90.3,5.7 97,10C103.7,14.3 107.3,17.5 112,22C116.7,26.5 119.5,32.3 125,37C130.5,41.7 139.2,45.8 145,50C150.8,54.2 153.3,57.8 160,62C166.7,66.2 176.7,70.8 185,75C193.3,79.2 201.7,83.3 210,87C218.3,90.7 226.8,94.3 235,97C243.2,99.7 253,100.7 259.4,102.9C265.7,105.2 271,109.3 273.4,110.5"/></defs><g fill="none" stroke-linecap="butt" stroke-linejoin="round"><use href="#w30" stroke="#a07e58" stroke-width="13.8" transform="translate(0,0)"/><use href="#w30" stroke="#ac8a63" stroke-width="13" transform="translate(0.1,-0.2)"/><use href="#w30" stroke="#b8966e" stroke-width="12" transform="translate(0.3,-0.5)"/><use href="#w30" stroke="#c4a27a" stroke-width="10.8" transform="translate(0.4,-0.9)"/><use href="#w30" stroke="#d0ae86" stroke-width="9.6" transform="translate(0.6,-1.2)"/><use href="#w30" stroke="#d8b891" stroke-width="7.7" transform="translate(0.9,-1.7)"/><use href="#w30" stroke="#dfc29c" stroke-width="5.9" transform="translate(1.1,-2.2)"/><use href="#w30" stroke="#e4caa5" stroke-width="4.4" transform="translate(1.2,-2.5)"/><use href="#w30" stroke="#e9d1ae" stroke-width="2.9" transform="translate(1.3,-2.6)"/></g>
<defs><path id="w31" d="M243,110.4L422.5,213.8"/></defs><g fill="none" stroke-linecap="butt" stroke-linejoin="round"><use href="#w31" stroke="#73573a" stroke-width="20" transform="translate(0,0)"/><use href="#w31" stroke="#806242" stroke-width="16.6" transform="translate(0.7,-1.4)"/><use href="#w31" stroke="#8c6e4a" stroke-width="14.9" transform="translate(1,-2)"/><use href="#w31" stroke="#987952" stroke-width="12.6" transform="translate(1.4,-2.8)"/><use href="#w31" stroke="#a4845a" stroke-width="10.2" transform="translate(1.8,-3.6)"/><use href="#w31" stroke="#ab8c62" stroke-width="8.2" transform="translate(2.1,-4.1)"/><use href="#w31" stroke="#b2946a" stroke-width="6.2" transform="translate(2.3,-4.6)"/><use href="#w31" stroke="#b89b71" stroke-width="4.7" transform="translate(2.5,-4.9)"/><use href="#w31" stroke="#bfa278" stroke-width="3.3" transform="translate(2.6,-5.2)"/></g>
<g transform="translate(422.5,213.8) rotate(29.9)"><ellipse rx="7.2" ry="10.4" fill="#8c6e4a"/><ellipse cx="0.6" rx="6.5" ry="9.7" fill="#ac8d63"/></g><g transform="translate(423.2,213.9) rotate(29.9) scale(0.8,1)"><circle r="5.6" fill="#b9a878"/><circle r="2" fill="#f1e8b0" stroke="#8a7a50" stroke-width="0.4"/><circle cx="3.3" cy="1.9" r="2" fill="#f1e8b0" stroke="#8a7a50" stroke-width="0.4"/><circle cx="0" cy="3.8" r="2" fill="#f1e8b0" stroke="#8a7a50" stroke-width="0.4"/><circle cx="-3.3" cy="1.9" r="2" fill="#f1e8b0" stroke="#8a7a50" stroke-width="0.4"/><circle cx="-3.3" cy="-1.9" r="2" fill="#f1e8b0" stroke="#8a7a50" stroke-width="0.4"/><circle cx="0" cy="-3.8" r="2" fill="#f1e8b0" stroke="#8a7a50" stroke-width="0.4"/><circle cx="3.3" cy="-1.9" r="2" fill="#f1e8b0" stroke="#8a7a50" stroke-width="0.4"/></g>
<defs><path id="w32" d="M45,-4C47.8,-2.8 55.8,-0.2 62,3C68.2,6.2 75.7,11.3 82,15C88.3,18.7 93.7,22.3 100,25C106.3,27.7 112.5,28.8 120,31"/></defs><g fill="none" stroke-linecap="butt" stroke-linejoin="round"><use href="#w32" stroke="#73573a" stroke-width="15" transform="translate(0,0)"/><use href="#w32" stroke="#806242" stroke-width="14.1" transform="translate(0.1,-0.3)"/><use href="#w32" stroke="#8c6e4a" stroke-width="13.1" transform="translate(0.3,-0.6)"/><use href="#w32" stroke="#987952" stroke-width="11.7" transform="translate(0.5,-0.9)"/><use href="#w32" stroke="#a4845a" stroke-width="10.4" transform="translate(0.7,-1.3)"/><use href="#w32" stroke="#ab8c62" stroke-width="8.4" transform="translate(0.9,-1.9)"/><use href="#w32" stroke="#b2946a" stroke-width="6.4" transform="translate(1.2,-2.4)"/><use href="#w32" stroke="#b89b71" stroke-width="4.8" transform="translate(1.3,-2.7)"/><use href="#w32" stroke="#bfa278" stroke-width="3.1" transform="translate(1.5,-2.9)"/></g>
<defs><path id="w33" d="M100,25C106.3,27.7 112.5,28.8 120,31C127.5,33.2 136.7,35.3 145,38C153.3,40.7 162.5,43.8 170,47"/></defs><g fill="none" stroke-linecap="butt" stroke-linejoin="round"><use href="#w33" stroke="#73573a" stroke-width="15.8" transform="translate(0,0)"/><use href="#w33" stroke="#806242" stroke-width="14.9" transform="translate(0.1,-0.3)"/><use href="#w33" stroke="#8c6e4a" stroke-width="13.8" transform="translate(0.3,-0.6)"/><use href="#w33" stroke="#987952" stroke-width="12.4" transform="translate(0.5,-1)"/><use href="#w33" stroke="#a4845a" stroke-width="10.9" transform="translate(0.7,-1.4)"/><use href="#w33" stroke="#ab8c62" stroke-width="8.8" transform="translate(1,-2)"/><use href="#w33" stroke="#b2946a" stroke-width="6.8" transform="translate(1.3,-2.5)"/><use href="#w33" stroke="#b89b71" stroke-width="5.1" transform="translate(1.4,-2.8)"/><use href="#w33" stroke="#bfa278" stroke-width="3.3" transform="translate(1.5,-3)"/></g>
<defs><path id="w34" d="M145,38C153.3,40.7 162.5,43.8 170,47C177.5,50.2 184.5,53.5 190,57C195.5,60.5 199.3,64.2 203,68"/></defs><g fill="none" stroke-linecap="butt" stroke-linejoin="round"><use href="#w34" stroke="#73573a" stroke-width="16.6" transform="translate(0,0)"/><use href="#w34" stroke="#806242" stroke-width="15.6" transform="translate(0.1,-0.3)"/><use href="#w34" stroke="#8c6e4a" stroke-width="14.5" transform="translate(0.3,-0.6)"/><use href="#w34" stroke="#987952" stroke-width="13" transform="translate(0.5,-1)"/><use href="#w34" stroke="#a4845a" stroke-width="11.5" transform="translate(0.7,-1.4)"/><use href="#w34" stroke="#ab8c62" stroke-width="9.3" transform="translate(1,-2.1)"/><use href="#w34" stroke="#b2946a" stroke-width="7.1" transform="translate(1.3,-2.6)"/><use href="#w34" stroke="#b89b71" stroke-width="5.3" transform="translate(1.5,-3)"/><use href="#w34" stroke="#bfa278" stroke-width="3.5" transform="translate(1.6,-3.2)"/></g>
<defs><path id="w35" d="M190,57C195.5,60.5 199.3,64.2 203,68C206.7,71.8 208.8,76 212,80C215.2,84 218.7,88.2 222,92C225.3,95.8 228.1,99.9 232,103C235.9,106.1 241,107.8 245.6,110.4C250.2,112.9 257.3,117.1 259.6,118.4"/></defs><g fill="none" stroke-linecap="butt" stroke-linejoin="round"><use href="#w35" stroke="#73573a" stroke-width="17.4" transform="translate(0,0)"/><use href="#w35" stroke="#806242" stroke-width="16.4" transform="translate(0.2,-0.3)"/><use href="#w35" stroke="#8c6e4a" stroke-width="15.2" transform="translate(0.3,-0.7)"/><use href="#w35" stroke="#987952" stroke-width="13.6" transform="translate(0.6,-1.1)"/><use href="#w35" stroke="#a4845a" stroke-width="12.1" transform="translate(0.8,-1.5)"/><use href="#w35" stroke="#ab8c62" stroke-width="9.7" transform="translate(1.1,-2.2)"/><use href="#w35" stroke="#b2946a" stroke-width="7.5" transform="translate(1.4,-2.8)"/><use href="#w35" stroke="#b89b71" stroke-width="5.6" transform="translate(1.6,-3.1)"/><use href="#w35" stroke="#bfa278" stroke-width="3.7" transform="translate(1.7,-3.3)"/></g>
<defs><linearGradient id="og5" gradientUnits="userSpaceOnUse" x1="156" y1="58.8" x2="180" y2="72.4"><stop offset="0" stop-color="#fff"/><stop offset="1" stop-color="#000"/></linearGradient><mask id="ov5" maskUnits="userSpaceOnUse" x="0" y="-10" width="420" height="220"><rect x="0" y="-10" width="420" height="220" fill="url(#og5)"/></mask></defs>
<g fill="none" stroke-linecap="butt" stroke-linejoin="round" mask="url(#ov5)"><use href="#w30" stroke="#a07e58" stroke-width="13.8" transform="translate(0,0)"/><use href="#w30" stroke="#ac8a63" stroke-width="13" transform="translate(0.1,-0.2)"/><use href="#w30" stroke="#b8966e" stroke-width="12" transform="translate(0.3,-0.5)"/><use href="#w30" stroke="#c4a27a" stroke-width="10.8" transform="translate(0.4,-0.9)"/><use href="#w30" stroke="#d0ae86" stroke-width="9.6" transform="translate(0.6,-1.2)"/><use href="#w30" stroke="#d8b891" stroke-width="7.7" transform="translate(0.9,-1.7)"/><use href="#w30" stroke="#dfc29c" stroke-width="5.9" transform="translate(1.1,-2.2)"/><use href="#w30" stroke="#e4caa5" stroke-width="4.4" transform="translate(1.2,-2.5)"/><use href="#w30" stroke="#e9d1ae" stroke-width="2.9" transform="translate(1.3,-2.6)"/></g>
<path d="M254.3,105.8L418.3,200.3" stroke="#f3ede2" stroke-width="0.9" opacity="0.85" fill="none"/>
<path d="M266.3,99.3L440.3,194.1" stroke="#f3ede2" stroke-width="0.9" opacity="0.5" fill="none"/>
<path d="M304.2,105.2L462.2,190" stroke="#f3ede2" stroke-width="0.9" opacity="0.3" fill="none"/>
</g>
<g id="frontribbon">
<polygon points="-2,35.5 271.8,207.7 29.6,249.9 -2,241.5" fill="#a29e94"/>
<polygon points="-2,32.7 271.8,207.7 251.6,211.6 -2,46.7" fill="#bf9d75"/><polygon points="-2,33.7 270.4,208 251.6,211.6 -2,46.7" fill="#c9a77f"/><polygon points="-2,34.7 268.9,208.2 251.6,211.6 -2,46.7" fill="#d0ae86"/><polygon points="-2,35.7 267.5,208.5 251.6,211.6 -2,46.7" fill="#dabc95"/><polygon points="-2,36.7 266,208.8 251.6,211.6 -2,46.7" fill="#e3c8a3"/><polygon points="-2,37.7 264.6,209.1 251.6,211.6 -2,46.7" fill="#e8cfac"/><polygon points="-2,38.7 263.2,209.4 251.6,211.6 -2,46.7" fill="#e2c6a1"/><polygon points="-2,39.7 261.7,209.6 251.6,211.6 -2,46.7" fill="#dcbe97"/><polygon points="-2,40.7 260.3,209.9 251.6,211.6 -2,46.7" fill="#d5b58d"/><polygon points="-2,41.7 258.8,210.2 251.6,211.6 -2,46.7" fill="#ceac84"/><polygon points="-2,42.7 257.4,210.5 251.6,211.6 -2,46.7" fill="#c6a47c"/><polygon points="-2,43.7 256,210.8 251.6,211.6 -2,46.7" fill="#be9c74"/><polygon points="-2,44.7 254.5,211 251.6,211.6 -2,46.7" fill="#b6946d"/><polygon points="-2,45.7 253.1,211.3 251.6,211.6 -2,46.7" fill="#ae8c65"/>
<polygon points="-2,48 250.5,211.8 249.2,212.1 -2,48" fill="#cbc7bd"/>
<polygon points="-2,46.7 249.2,212.1 230.6,215.6 -2,62.7" fill="#3e844a"/><polygon points="-2,47.8 247.9,212.4 230.6,215.6 -2,62.7" fill="#448d4f"/><polygon points="-2,49 246.5,212.6 230.6,215.6 -2,62.7" fill="#489252"/><polygon points="-2,50.1 245.2,212.9 230.6,215.6 -2,62.7" fill="#529d5a"/><polygon points="-2,51.3 243.9,213.1 230.6,215.6 -2,62.7" fill="#5da864"/><polygon points="-2,52.4 242.6,213.4 230.6,215.6 -2,62.7" fill="#66ae6a"/><polygon points="-2,53.5 241.2,213.6 230.6,215.6 -2,62.7" fill="#5ba662"/><polygon points="-2,54.7 239.9,213.9 230.6,215.6 -2,62.7" fill="#539e5b"/><polygon points="-2,55.8 238.6,214.1 230.6,215.6 -2,62.7" fill="#4d9756"/><polygon points="-2,57 237.2,214.4 230.6,215.6 -2,62.7" fill="#479051"/><polygon points="-2,58.1 235.9,214.6 230.6,215.6 -2,62.7" fill="#42894d"/><polygon points="-2,59.3 234.6,214.9 230.6,215.6 -2,62.7" fill="#3e8349"/><polygon points="-2,60.4 233.3,215.1 230.6,215.6 -2,62.7" fill="#397c45"/><polygon points="-2,61.5 231.9,215.4 230.6,215.6 -2,62.7" fill="#347340"/>
<polygon points="-2,64.5 229.3,215.9 227.7,216.2 -2,65" fill="#cbc7bd"/>
<polygon points="-2,63.7 227.7,216.2 205,220.7 -2,79.6" fill="#bf9d75"/><polygon points="-2,64.8 226,216.6 205,220.7 -2,79.6" fill="#c9a77f"/><polygon points="-2,66 224.4,216.9 205,220.7 -2,79.6" fill="#d0ae86"/><polygon points="-2,67.1 222.8,217.2 205,220.7 -2,79.6" fill="#dabc95"/><polygon points="-2,68.2 221.2,217.5 205,220.7 -2,79.6" fill="#e3c8a3"/><polygon points="-2,69.4 219.6,217.8 205,220.7 -2,79.6" fill="#e8cfac"/><polygon points="-2,70.5 217.9,218.1 205,220.7 -2,79.6" fill="#e2c6a1"/><polygon points="-2,71.7 216.3,218.5 205,220.7 -2,79.6" fill="#dcbe97"/><polygon points="-2,72.8 214.7,218.8 205,220.7 -2,79.6" fill="#d5b58d"/><polygon points="-2,73.9 213.1,219.1 205,220.7 -2,79.6" fill="#ceac84"/><polygon points="-2,75.1 211.5,219.4 205,220.7 -2,79.6" fill="#c6a47c"/><polygon points="-2,76.2 209.8,219.7 205,220.7 -2,79.6" fill="#be9c74"/><polygon points="-2,77.4 208.2,220 205,220.7 -2,79.6" fill="#b6946d"/><polygon points="-2,78.5 206.6,220.4 205,220.7 -2,79.6" fill="#ae8c65"/>
<polygon points="-2,81.9 203.4,221 201.5,221.4 -2,83" fill="#cbc7bd"/>
<polygon points="-2,81.6 201.5,221.4 179.3,225.7 -2,97.6" fill="#cbae33"/><polygon points="-2,82.8 200,221.7 179.3,225.7 -2,97.6" fill="#d5b937"/><polygon points="-2,83.9 198.4,222 179.3,225.7 -2,97.6" fill="#dcc03a"/><polygon points="-2,85 196.8,222.3 179.3,225.7 -2,97.6" fill="#e4ca44"/><polygon points="-2,86.2 195.2,222.6 179.3,225.7 -2,97.6" fill="#ebd451"/><polygon points="-2,87.3 193.6,222.9 179.3,225.7 -2,97.6" fill="#efd95c"/><polygon points="-2,88.5 192,223.2 179.3,225.7 -2,97.6" fill="#ead24f"/><polygon points="-2,89.6 190.4,223.5 179.3,225.7 -2,97.6" fill="#e5cc45"/><polygon points="-2,90.7 188.9,223.9 179.3,225.7 -2,97.6" fill="#e0c53f"/><polygon points="-2,91.9 187.3,224.2 179.3,225.7 -2,97.6" fill="#dabe39"/><polygon points="-2,93 185.7,224.5 179.3,225.7 -2,97.6" fill="#d2b536"/><polygon points="-2,94.2 184.1,224.8 179.3,225.7 -2,97.6" fill="#caad33"/><polygon points="-2,95.3 182.5,225.1 179.3,225.7 -2,97.6" fill="#c2a42f"/><polygon points="-2,96.4 180.9,225.4 179.3,225.7 -2,97.6" fill="#b89b2c"/>
<polygon points="-2,99.7 177.6,226.1 175.4,226.5 -2,100.6" fill="#cbc7bd"/>
<polygon points="-2,99.2 175.4,226.5 155.8,230.2 -2,118" fill="#bf9d75"/><polygon points="-2,100.5 174,226.8 155.8,230.2 -2,118" fill="#c9a77f"/><polygon points="-2,101.9 172.6,227.1 155.8,230.2 -2,118" fill="#d0ae86"/><polygon points="-2,103.2 171.2,227.3 155.8,230.2 -2,118" fill="#dabc95"/><polygon points="-2,104.5 169.8,227.6 155.8,230.2 -2,118" fill="#e3c8a3"/><polygon points="-2,105.9 168.4,227.9 155.8,230.2 -2,118" fill="#e8cfac"/><polygon points="-2,107.2 167,228.1 155.8,230.2 -2,118" fill="#e2c6a1"/><polygon points="-2,108.6 165.6,228.4 155.8,230.2 -2,118" fill="#dcbe97"/><polygon points="-2,109.9 164.2,228.6 155.8,230.2 -2,118" fill="#d5b58d"/><polygon points="-2,111.3 162.8,228.9 155.8,230.2 -2,118" fill="#ceac84"/><polygon points="-2,112.6 161.4,229.2 155.8,230.2 -2,118" fill="#c6a47c"/><polygon points="-2,113.9 160,229.4 155.8,230.2 -2,118" fill="#be9c74"/><polygon points="-2,115.3 158.6,229.7 155.8,230.2 -2,118" fill="#b6946d"/><polygon points="-2,116.6 157.2,230 155.8,230.2 -2,118" fill="#ae8c65"/>
<polygon points="-2,120.1 153.8,230.7 151.3,231.2 -2,121" fill="#cbc7bd"/>
<polygon points="-2,119.5 151.3,231.2 130.2,235.3 -2,137.9" fill="#db6640"/><polygon points="-2,120.9 149.8,231.5 130.2,235.3 -2,137.9" fill="#e46d45"/><polygon points="-2,122.2 148.3,231.8 130.2,235.3 -2,137.9" fill="#ea7248"/><polygon points="-2,123.5 146.8,232.1 130.2,235.3 -2,137.9" fill="#f18055"/><polygon points="-2,124.8 145.3,232.3 130.2,235.3 -2,137.9" fill="#f68e64"/><polygon points="-2,126.1 143.8,232.6 130.2,235.3 -2,137.9" fill="#f8986f"/><polygon points="-2,127.4 142.3,232.9 130.2,235.3 -2,137.9" fill="#f58c61"/><polygon points="-2,128.7 140.7,233.2 130.2,235.3 -2,137.9" fill="#f28256"/><polygon points="-2,130 139.2,233.5 130.2,235.3 -2,137.9" fill="#ed794e"/><polygon points="-2,131.4 137.7,233.8 130.2,235.3 -2,137.9" fill="#e87047"/><polygon points="-2,132.7 136.2,234.1 130.2,235.3 -2,137.9" fill="#e16b43"/><polygon points="-2,134 134.7,234.4 130.2,235.3 -2,137.9" fill="#da653f"/><polygon points="-2,135.3 133.2,234.7 130.2,235.3 -2,137.9" fill="#d25f3b"/><polygon points="-2,136.6 131.7,235 130.2,235.3 -2,137.9" fill="#c85835"/>
<polygon points="-2,141 127.9,235.7 125.2,236.2 -2,143" fill="#cbc7bd"/>
<polygon points="-2,141.5 125.2,236.2 101.5,240.9 -2,161.5" fill="#bf9d75"/><polygon points="-2,142.9 123.5,236.6 101.5,240.9 -2,161.5" fill="#c9a77f"/><polygon points="-2,144.4 121.8,236.9 101.5,240.9 -2,161.5" fill="#d0ae86"/><polygon points="-2,145.8 120.1,237.2 101.5,240.9 -2,161.5" fill="#dabc95"/><polygon points="-2,147.2 118.5,237.6 101.5,240.9 -2,161.5" fill="#e3c8a3"/><polygon points="-2,148.6 116.8,237.9 101.5,240.9 -2,161.5" fill="#e8cfac"/><polygon points="-2,150.1 115.1,238.2 101.5,240.9 -2,161.5" fill="#e2c6a1"/><polygon points="-2,151.5 113.4,238.6 101.5,240.9 -2,161.5" fill="#dcbe97"/><polygon points="-2,152.9 111.7,238.9 101.5,240.9 -2,161.5" fill="#d5b58d"/><polygon points="-2,154.3 110,239.2 101.5,240.9 -2,161.5" fill="#ceac84"/><polygon points="-2,155.8 108.3,239.6 101.5,240.9 -2,161.5" fill="#c6a47c"/><polygon points="-2,157.2 106.6,239.9 101.5,240.9 -2,161.5" fill="#be9c74"/><polygon points="-2,158.6 104.9,240.2 101.5,240.9 -2,161.5" fill="#b6946d"/><polygon points="-2,160 103.2,240.6 101.5,240.9 -2,161.5" fill="#ae8c65"/>
<polygon points="-2,164.2 99,241.4 95.9,242.1 -2,165.6" fill="#cbc7bd"/>
<polygon points="-2,164 95.9,242.1 79,245.2 -2,182.9" fill="#ba1714"/><polygon points="-2,165.4 94.7,242.3 79,245.2 -2,182.9" fill="#c71a17"/><polygon points="-2,166.7 93.5,242.6 79,245.2 -2,182.9" fill="#d01c18"/><polygon points="-2,168 92.3,242.8 79,245.2 -2,182.9" fill="#db2922"/><polygon points="-2,169.4 91.1,243 79,245.2 -2,182.9" fill="#e43a30"/><polygon points="-2,170.7 89.9,243.2 79,245.2 -2,182.9" fill="#e8493b"/><polygon points="-2,172.1 88.7,243.4 79,245.2 -2,182.9" fill="#e3372d"/><polygon points="-2,173.4 87.5,243.6 79,245.2 -2,182.9" fill="#dc2a23"/><polygon points="-2,174.8 86.3,243.9 79,245.2 -2,182.9" fill="#d5221d"/><polygon points="-2,176.1 85,244.1 79,245.2 -2,182.9" fill="#cd1b17"/><polygon points="-2,177.5 83.8,244.3 79,245.2 -2,182.9" fill="#c31916"/><polygon points="-2,178.8 82.6,244.5 79,245.2 -2,182.9" fill="#b91614"/><polygon points="-2,180.2 81.4,244.7 79,245.2 -2,182.9" fill="#ae1412"/><polygon points="-2,181.5 80.2,245 79,245.2 -2,182.9" fill="#a0110f"/>
<polygon points="-2,186.9 76.3,245.7 73.1,246.3 -2,190" fill="#cbc7bd"/>
<polygon points="-2,188.5 73.1,246.3 55.1,249 -2,211.2" fill="#bf9d75"/><polygon points="-2,190.1 71.8,246.5 55.1,249 -2,211.2" fill="#c9a77f"/><polygon points="-2,191.7 70.5,246.7 55.1,249 -2,211.2" fill="#d0ae86"/><polygon points="-2,193.3 69.2,246.9 55.1,249 -2,211.2" fill="#dabc95"/><polygon points="-2,194.9 67.9,247.1 55.1,249 -2,211.2" fill="#e3c8a3"/><polygon points="-2,196.6 66.7,247.3 55.1,249 -2,211.2" fill="#e8cfac"/><polygon points="-2,198.2 65.4,247.5 55.1,249 -2,211.2" fill="#e2c6a1"/><polygon points="-2,199.8 64.1,247.7 55.1,249 -2,211.2" fill="#dcbe97"/><polygon points="-2,201.4 62.8,247.9 55.1,249 -2,211.2" fill="#d5b58d"/><polygon points="-2,203.1 61.5,248.1 55.1,249 -2,211.2" fill="#ceac84"/><polygon points="-2,204.7 60.2,248.3 55.1,249 -2,211.2" fill="#c6a47c"/><polygon points="-2,206.3 58.9,248.4 55.1,249 -2,211.2" fill="#be9c74"/><polygon points="-2,207.9 57.6,248.6 55.1,249 -2,211.2" fill="#b6946d"/><polygon points="-2,209.6 56.4,248.8 55.1,249 -2,211.2" fill="#ae8c65"/>
<polygon points="-2,214.5 52.1,249.7 48.5,250.5 -2,217" fill="#cbc7bd"/>
<polygon points="-2,215.6 48.5,250.5 29.6,249.9 -2,242" fill="#93754f"/><polygon points="-2,217.5 47.2,250.4 29.6,249.9 -2,242" fill="#9d7e56"/><polygon points="-2,219.4 45.8,250.4 29.6,249.9 -2,242" fill="#a4845a"/><polygon points="-2,221.3 44.5,250.3 29.6,249.9 -2,242" fill="#ae8f65"/><polygon points="-2,223.2 43.1,250.3 29.6,249.9 -2,242" fill="#b79a70"/><polygon points="-2,225 41.8,250.3 29.6,249.9 -2,242" fill="#bea076"/><polygon points="-2,226.9 40.4,250.2 29.6,249.9 -2,242" fill="#b6986e"/><polygon points="-2,228.8 39.1,250.2 29.6,249.9 -2,242" fill="#af9066"/><polygon points="-2,230.7 37.7,250.1 29.6,249.9 -2,242" fill="#a9895f"/><polygon points="-2,232.6 36.3,250.1 29.6,249.9 -2,242" fill="#a28259"/><polygon points="-2,234.5 35,250.1 29.6,249.9 -2,242" fill="#9a7b53"/><polygon points="-2,236.3 33.6,250 29.6,249.9 -2,242" fill="#92744e"/><polygon points="-2,238.2 32.3,250 29.6,249.9 -2,242" fill="#8a6c49"/><polygon points="-2,240.1 30.9,249.9 29.6,249.9 -2,242" fill="#816443"/>
</g>
<defs>
<linearGradient id="pin" x1="0" x2="1" y1="0" y2="0"><stop offset="0" stop-color="#838383"/><stop offset="0.32" stop-color="#909090"/><stop offset="0.38" stop-color="#b3b3b3"/><stop offset="0.85" stop-color="#adadad"/><stop offset="1" stop-color="#989898"/></linearGradient>
<linearGradient id="ffront" x1="0" x2="0.12" y1="0" y2="1"><stop offset="0" stop-color="#4e4e4e"/><stop offset="0.35" stop-color="#454545"/><stop offset="0.62" stop-color="#3d3d3d"/><stop offset="1" stop-color="#373737"/></linearGradient>
<linearGradient id="ftop" x1="0" x2="1" y1="0" y2="0"><stop offset="0" stop-color="#5c5c5c"/><stop offset="1" stop-color="#535353"/></linearGradient>
<linearGradient id="fside" x1="0" x2="1" y1="0" y2="0"><stop offset="0" stop-color="#4c4c4c"/><stop offset="1" stop-color="#3f3f3f"/></linearGradient>
<linearGradient id="fnotch" x1="0" x2="1" y1="0" y2="0.3"><stop offset="0" stop-color="#2c2c2c"/><stop offset="0.45" stop-color="#343434"/><stop offset="1" stop-color="#474747"/></linearGradient>
</defs>
<g id="pins">
<rect x="218.2" y="360" width="3.4" height="23" fill="#8d8d8d"/>
<rect x="261.6" y="350" width="3.4" height="22" fill="#8d8d8d"/>
<rect x="304" y="340" width="3.4" height="20" fill="#8d8d8d"/>
<rect x="175.4" y="372" width="3.4" height="22" fill="#8d8d8d"/>
<rect x="130.4" y="384" width="3.4" height="22" fill="#8d8d8d"/>
<polygon points="88.8,392 100.3,392 100.3,415.3 97.1,420.3 92,420.3 88.8,415.3" fill="url(#pin)"/>
<polygon points="88.8,415.3 100.3,415.3 97.1,420.3 92,420.3" fill="#8a8a8a" opacity="0.55"/>
<polygon points="132.6,382 146.4,382 146.4,431.3 142.5,436.3 136.5,436.3 132.6,431.3" fill="url(#pin)"/>
<polygon points="132.6,431.3 146.4,431.3 142.5,436.3 136.5,436.3" fill="#8a8a8a" opacity="0.55"/>
<polygon points="177.6,372 191.2,372 191.2,420.2 187.4,425.2 181.4,425.2 177.6,420.2" fill="url(#pin)"/>
<polygon points="177.6,420.2 191.2,420.2 187.4,425.2 181.4,425.2" fill="#8a8a8a" opacity="0.55"/>
<polygon points="220.3,360 233,360 233,409.2 229.4,414.2 223.9,414.2 220.3,409.2" fill="url(#pin)"/>
<polygon points="220.3,409.2 233,409.2 229.4,414.2 223.9,414.2" fill="#8a8a8a" opacity="0.55"/>
<polygon points="263.8,350 276.6,350 276.6,398.5 273,403.5 267.4,403.5 263.8,398.5" fill="url(#pin)"/>
<polygon points="263.8,398.5 276.6,398.5 273,403.5 267.4,403.5" fill="#8a8a8a" opacity="0.55"/>
<polygon points="306,338 318.8,338 318.8,387.6 315.2,392.6 309.6,392.6 306,387.6" fill="url(#pin)"/>
<polygon points="306,387.6 318.8,387.6 315.2,392.6 309.6,392.6" fill="#8a8a8a" opacity="0.55"/>
</g>
<g id="connector">
<polygon points="16.3,246.8 47.5,276.2 81.6,272 81.6,399.5 68.4,403.8 23.4,358.8" fill="#3e3e3e"/>
<polygon points="16.3,246.8 35.2,264.6 35.6,369.3 23.4,358.8" fill="#4a4a4a"/>
<polygon points="35.2,266.5 50,280.5 53.6,371 35.5,353.5" fill="#2f2f2f"/>
<polygon points="35.2,266.5 37.6,268.8 38.3,356.2 35.5,353.5" fill="#444"/>
<polygon points="47.5,274.2 373.6,222 373.4,331.6 300,349.2 200,371.5 133,387 68.4,403.8" fill="url(#ffront)"/>
<polygon points="16.3,246.8 317.3,189.5 333,199 333,215.6 357,213.7 373.6,224 320,234.8 270,245.5 200,259.5 140,266.8 90,272 47.5,276.2" fill="url(#ftop)"/>
<polygon points="313.4,202.8 333,199 333,215.8" fill="#2b2b2b"/>
<polygon points="28.8,258.8 51.2,254.4 70,270.6 47.5,276.2" fill="url(#fnotch)"/>
<polygon points="87.6,242.9 125.1,236.5 128.9,240.7 91.4,247.1" fill="#1c1c1c"/>
<polygon points="90.4,245.8 127.9,239.4 128.9,240.7 91.4,247.1" fill="#303030"/>
<polygon points="87.1,266.7 125.1,260.2 128.9,264.4 90.9,270.9" fill="#1c1c1c"/>
<polygon points="89.9,269.6 127.9,263.1 128.9,264.4 90.9,270.9" fill="#303030"/>
<polygon points="134.6,234.4 171.2,228 175.1,232.2 138.4,238.6" fill="#1c1c1c"/>
<polygon points="137.4,237.3 174.1,230.9 175.1,232.2 138.4,238.6" fill="#303030"/>
<polygon points="135.8,256.9 173.1,250.5 176.9,254.7 139.6,261.1" fill="#1c1c1c"/>
<polygon points="138.6,259.8 175.9,253.4 176.9,254.7 139.6,261.1" fill="#303030"/>
<polygon points="179.6,225.8 215.5,219.6 219.3,223.8 183.4,230" fill="#1c1c1c"/>
<polygon points="182.4,228.7 218.3,222.5 219.3,223.8 183.4,230" fill="#303030"/>
<polygon points="182.3,247.5 218.9,241.3 222.7,245.5 186.1,251.7" fill="#1c1c1c"/>
<polygon points="185.1,250.4 221.7,244.2 222.7,245.5 186.1,251.7" fill="#303030"/>
<polygon points="222.7,217.3 257.8,211.3 261.6,215.5 226.5,221.5" fill="#1c1c1c"/>
<polygon points="225.5,220.2 260.6,214.2 261.6,215.5 226.5,221.5" fill="#303030"/>
<polygon points="226.7,238.7 262.6,232.5 266.4,236.7 230.5,242.9" fill="#1c1c1c"/>
<polygon points="229.5,241.6 265.4,235.4 266.4,236.7 230.5,242.9" fill="#303030"/>
<polygon points="263.8,208.9 298.1,203 301.9,207.2 267.6,213.1" fill="#1c1c1c"/>
<polygon points="266.6,211.8 300.9,205.9 301.9,207.2 267.6,213.1" fill="#303030"/>
<polygon points="268.8,230.2 304,224.2 307.8,228.4 272.6,234.4" fill="#1c1c1c"/>
<polygon points="271.6,233.1 306.8,227.1 307.8,228.4 272.6,234.4" fill="#303030"/>
<polygon points="80,326 360,264.4 362,272.5 82.5,335" fill="#1b1b1b"/>
<polygon points="79.5,305 82.6,304.4 82.6,335 79.5,335.5" fill="#1b1b1b"/>
<polygon points="358.7,245.8 362.6,245.2 362.6,272.5 358.7,273.4" fill="#1b1b1b"/>
<path d="M82.5,335.6L362,273.1" stroke="#444" stroke-width="1" fill="none"/>
<path d="M80.2,336L80.4,401M362.6,273L362.4,333.5" stroke="#303030" stroke-width="1" fill="none"/>
<circle cx="99.6" cy="322.6" r="13" fill="#8a6e50"/>
<ellipse cx="102.6" cy="322.2" rx="11.3" ry="12.3" fill="#b99a78"/>
<g transform="translate(102.8,322.3) rotate(0) scale(1,1)"><circle r="7" fill="#b0976f"/><circle r="2.5" fill="#f0e8ac" stroke="#9a8a4c" stroke-width="0.4"/><circle cx="4.1" cy="2.4" r="2.5" fill="#f0e8ac" stroke="#9a8a4c" stroke-width="0.4"/><circle cx="0" cy="4.8" r="2.5" fill="#f0e8ac" stroke="#9a8a4c" stroke-width="0.4"/><circle cx="-4.1" cy="2.4" r="2.5" fill="#f0e8ac" stroke="#9a8a4c" stroke-width="0.4"/><circle cx="-4.1" cy="-2.4" r="2.5" fill="#f0e8ac" stroke="#9a8a4c" stroke-width="0.4"/><circle cx="0" cy="-4.8" r="2.5" fill="#f0e8ac" stroke="#9a8a4c" stroke-width="0.4"/><circle cx="4.1" cy="-2.4" r="2.5" fill="#f0e8ac" stroke="#9a8a4c" stroke-width="0.4"/></g>
<circle cx="129.4" cy="316.6" r="12.9" fill="#b8997a"/>
<ellipse cx="132.4" cy="316.2" rx="11.2" ry="12.2" fill="#e4c9aa"/>
<g transform="translate(132.6,316.3) rotate(0) scale(1,1)"><circle r="7" fill="#c3ac86"/><circle r="2.5" fill="#f0e8ac" stroke="#9a8a4c" stroke-width="0.4"/><circle cx="4.1" cy="2.4" r="2.5" fill="#f0e8ac" stroke="#9a8a4c" stroke-width="0.4"/><circle cx="0" cy="4.8" r="2.5" fill="#f0e8ac" stroke="#9a8a4c" stroke-width="0.4"/><circle cx="-4.1" cy="2.4" r="2.5" fill="#f0e8ac" stroke="#9a8a4c" stroke-width="0.4"/><circle cx="-4.1" cy="-2.4" r="2.5" fill="#f0e8ac" stroke="#9a8a4c" stroke-width="0.4"/><circle cx="0" cy="-4.8" r="2.5" fill="#f0e8ac" stroke="#9a8a4c" stroke-width="0.4"/><circle cx="4.1" cy="-2.4" r="2.5" fill="#f0e8ac" stroke="#9a8a4c" stroke-width="0.4"/></g>
<circle cx="158.6" cy="310.6" r="12.8" fill="#960f0e"/>
<ellipse cx="161.6" cy="310.2" rx="11.1" ry="12.1" fill="#cf1f1c"/>
<g transform="translate(161.8,310.3) rotate(0) scale(1,1)"><circle r="7" fill="#ba5f46"/><circle r="2.5" fill="#f0e8ac" stroke="#9a8a4c" stroke-width="0.4"/><circle cx="4.1" cy="2.4" r="2.5" fill="#f0e8ac" stroke="#9a8a4c" stroke-width="0.4"/><circle cx="0" cy="4.8" r="2.5" fill="#f0e8ac" stroke="#9a8a4c" stroke-width="0.4"/><circle cx="-4.1" cy="2.4" r="2.5" fill="#f0e8ac" stroke="#9a8a4c" stroke-width="0.4"/><circle cx="-4.1" cy="-2.4" r="2.5" fill="#f0e8ac" stroke="#9a8a4c" stroke-width="0.4"/><circle cx="0" cy="-4.8" r="2.5" fill="#f0e8ac" stroke="#9a8a4c" stroke-width="0.4"/><circle cx="4.1" cy="-2.4" r="2.5" fill="#f0e8ac" stroke="#9a8a4c" stroke-width="0.4"/></g>
<circle cx="187.1" cy="304.6" r="12.7" fill="#b8997a"/>
<ellipse cx="190.1" cy="304.2" rx="11" ry="12" fill="#e4c9aa"/>
<g transform="translate(190.3,304.3) rotate(0) scale(1,1)"><circle r="7" fill="#c3ac86"/><circle r="2.5" fill="#f0e8ac" stroke="#9a8a4c" stroke-width="0.4"/><circle cx="4.1" cy="2.4" r="2.5" fill="#f0e8ac" stroke="#9a8a4c" stroke-width="0.4"/><circle cx="0" cy="4.8" r="2.5" fill="#f0e8ac" stroke="#9a8a4c" stroke-width="0.4"/><circle cx="-4.1" cy="2.4" r="2.5" fill="#f0e8ac" stroke="#9a8a4c" stroke-width="0.4"/><circle cx="-4.1" cy="-2.4" r="2.5" fill="#f0e8ac" stroke="#9a8a4c" stroke-width="0.4"/><circle cx="0" cy="-4.8" r="2.5" fill="#f0e8ac" stroke="#9a8a4c" stroke-width="0.4"/><circle cx="4.1" cy="-2.4" r="2.5" fill="#f0e8ac" stroke="#9a8a4c" stroke-width="0.4"/></g>
<circle cx="215" cy="298.6" r="12.6" fill="#c4503a"/>
<ellipse cx="218" cy="298.2" rx="10.9" ry="11.9" fill="#ec6f4e"/>
<g transform="translate(218.2,298.3) rotate(0) scale(1,1)"><circle r="7" fill="#c7835c"/><circle r="2.5" fill="#f0e8ac" stroke="#9a8a4c" stroke-width="0.4"/><circle cx="4.1" cy="2.4" r="2.5" fill="#f0e8ac" stroke="#9a8a4c" stroke-width="0.4"/><circle cx="0" cy="4.8" r="2.5" fill="#f0e8ac" stroke="#9a8a4c" stroke-width="0.4"/><circle cx="-4.1" cy="2.4" r="2.5" fill="#f0e8ac" stroke="#9a8a4c" stroke-width="0.4"/><circle cx="-4.1" cy="-2.4" r="2.5" fill="#f0e8ac" stroke="#9a8a4c" stroke-width="0.4"/><circle cx="0" cy="-4.8" r="2.5" fill="#f0e8ac" stroke="#9a8a4c" stroke-width="0.4"/><circle cx="4.1" cy="-2.4" r="2.5" fill="#f0e8ac" stroke="#9a8a4c" stroke-width="0.4"/></g>
<circle cx="242.1" cy="292.6" r="12.4" fill="#b8997a"/>
<ellipse cx="245.1" cy="292.2" rx="10.8" ry="11.8" fill="#e4c9aa"/>
<g transform="translate(245.3,292.3) rotate(0) scale(1,1)"><circle r="7" fill="#c3ac86"/><circle r="2.5" fill="#f0e8ac" stroke="#9a8a4c" stroke-width="0.4"/><circle cx="4.1" cy="2.4" r="2.5" fill="#f0e8ac" stroke="#9a8a4c" stroke-width="0.4"/><circle cx="0" cy="4.8" r="2.5" fill="#f0e8ac" stroke="#9a8a4c" stroke-width="0.4"/><circle cx="-4.1" cy="2.4" r="2.5" fill="#f0e8ac" stroke="#9a8a4c" stroke-width="0.4"/><circle cx="-4.1" cy="-2.4" r="2.5" fill="#f0e8ac" stroke="#9a8a4c" stroke-width="0.4"/><circle cx="0" cy="-4.8" r="2.5" fill="#f0e8ac" stroke="#9a8a4c" stroke-width="0.4"/><circle cx="4.1" cy="-2.4" r="2.5" fill="#f0e8ac" stroke="#9a8a4c" stroke-width="0.4"/></g>
<circle cx="268.6" cy="286.6" r="12.3" fill="#b39a2c"/>
<ellipse cx="271.6" cy="286.2" rx="10.6" ry="11.6" fill="#e3c744"/>
<g transform="translate(271.8,286.3) rotate(0) scale(1,1)"><circle r="7" fill="#c3ab58"/><circle r="2.5" fill="#f0e8ac" stroke="#9a8a4c" stroke-width="0.4"/><circle cx="4.1" cy="2.4" r="2.5" fill="#f0e8ac" stroke="#9a8a4c" stroke-width="0.4"/><circle cx="0" cy="4.8" r="2.5" fill="#f0e8ac" stroke="#9a8a4c" stroke-width="0.4"/><circle cx="-4.1" cy="2.4" r="2.5" fill="#f0e8ac" stroke="#9a8a4c" stroke-width="0.4"/><circle cx="-4.1" cy="-2.4" r="2.5" fill="#f0e8ac" stroke="#9a8a4c" stroke-width="0.4"/><circle cx="0" cy="-4.8" r="2.5" fill="#f0e8ac" stroke="#9a8a4c" stroke-width="0.4"/><circle cx="4.1" cy="-2.4" r="2.5" fill="#f0e8ac" stroke="#9a8a4c" stroke-width="0.4"/></g>
<circle cx="294.5" cy="280.6" r="12.2" fill="#b8997a"/>
<ellipse cx="297.5" cy="280.2" rx="10.5" ry="11.5" fill="#e4c9aa"/>
<g transform="translate(297.7,280.3) rotate(0) scale(1,1)"><circle r="7" fill="#c3ac86"/><circle r="2.5" fill="#f0e8ac" stroke="#9a8a4c" stroke-width="0.4"/><circle cx="4.1" cy="2.4" r="2.5" fill="#f0e8ac" stroke="#9a8a4c" stroke-width="0.4"/><circle cx="0" cy="4.8" r="2.5" fill="#f0e8ac" stroke="#9a8a4c" stroke-width="0.4"/><circle cx="-4.1" cy="2.4" r="2.5" fill="#f0e8ac" stroke="#9a8a4c" stroke-width="0.4"/><circle cx="-4.1" cy="-2.4" r="2.5" fill="#f0e8ac" stroke="#9a8a4c" stroke-width="0.4"/><circle cx="0" cy="-4.8" r="2.5" fill="#f0e8ac" stroke="#9a8a4c" stroke-width="0.4"/><circle cx="4.1" cy="-2.4" r="2.5" fill="#f0e8ac" stroke="#9a8a4c" stroke-width="0.4"/></g>
<circle cx="319.6" cy="274.6" r="12.1" fill="#2f6e3e"/>
<ellipse cx="322.6" cy="274.2" rx="10.4" ry="11.4" fill="#4c9a58"/>
<g transform="translate(322.8,274.3) rotate(0) scale(1,1)"><circle r="7" fill="#7f9761"/><circle r="2.5" fill="#f0e8ac" stroke="#9a8a4c" stroke-width="0.4"/><circle cx="4.1" cy="2.4" r="2.5" fill="#f0e8ac" stroke="#9a8a4c" stroke-width="0.4"/><circle cx="0" cy="4.8" r="2.5" fill="#f0e8ac" stroke="#9a8a4c" stroke-width="0.4"/><circle cx="-4.1" cy="2.4" r="2.5" fill="#f0e8ac" stroke="#9a8a4c" stroke-width="0.4"/><circle cx="-4.1" cy="-2.4" r="2.5" fill="#f0e8ac" stroke="#9a8a4c" stroke-width="0.4"/><circle cx="0" cy="-4.8" r="2.5" fill="#f0e8ac" stroke="#9a8a4c" stroke-width="0.4"/><circle cx="4.1" cy="-2.4" r="2.5" fill="#f0e8ac" stroke="#9a8a4c" stroke-width="0.4"/></g>
<circle cx="344.2" cy="268.6" r="12" fill="#b8997a"/>
<ellipse cx="347.2" cy="268.2" rx="10.3" ry="11.3" fill="#e4c9aa"/>
<g transform="translate(347.4,268.3) rotate(0) scale(1,1)"><circle r="7" fill="#c3ac86"/><circle r="2.5" fill="#f0e8ac" stroke="#9a8a4c" stroke-width="0.4"/><circle cx="4.1" cy="2.4" r="2.5" fill="#f0e8ac" stroke="#9a8a4c" stroke-width="0.4"/><circle cx="0" cy="4.8" r="2.5" fill="#f0e8ac" stroke="#9a8a4c" stroke-width="0.4"/><circle cx="-4.1" cy="2.4" r="2.5" fill="#f0e8ac" stroke="#9a8a4c" stroke-width="0.4"/><circle cx="-4.1" cy="-2.4" r="2.5" fill="#f0e8ac" stroke="#9a8a4c" stroke-width="0.4"/><circle cx="0" cy="-4.8" r="2.5" fill="#f0e8ac" stroke="#9a8a4c" stroke-width="0.4"/><circle cx="4.1" cy="-2.4" r="2.5" fill="#f0e8ac" stroke="#9a8a4c" stroke-width="0.4"/></g>
</g>
<g id="diagram">
<text x="62.8" y="505" font-size="42">M</text>
<text x="104.4" y="505" font-size="42">2</text>
<text x="491.2" y="505" font-size="42">ND</text>
<g fill="#fff" stroke="#2e2e2e" stroke-width="1.15">
<rect x="136.5" y="474.3" width="31.8" height="31.8"/>
<rect x="174.8" y="474.3" width="31.8" height="31.8"/>
<rect x="213.2" y="474.3" width="31.8" height="31.8"/>
<rect x="277.2" y="474.3" width="31.8" height="31.8"/>
<rect x="315.6" y="474.3" width="31.8" height="31.8"/>
<rect x="354" y="474.3" width="31.8" height="31.8"/>
<rect x="392.2" y="474.3" width="31.8" height="31.8"/>
<rect x="430.5" y="474.3" width="31.8" height="31.8"/>
</g>
<path d="M254.5,490 L270,490 M471,490 L486.5,490 M136,515.5 L208,515.5 M213.5,515.5 L246.3,515.5 M276.3,515.5 L348.8,515.5 M353.8,515.5 L426.3,515.5 M430,515.5 L462.5,515.5 M173.3,515.5 L173.3,557 L164,557 M153.8,539.5 L163.8,539.5 L163.8,570 L153.8,570 M230.3,515.5 L230.3,600 L217.5,600 M207.5,576.8 L217.5,576.8 L217.5,622.5 L207.5,622.5 M313,515.5 L313,555 M243.8,565 L243.8,555 L381.8,555 L381.8,565 M390,515.5 L390,610.8 L401.5,610.8 M412,589 L401.5,589 L401.5,633.8 L412,633.8 M446.5,515.5 L446.5,580.2 L482.2,580.2 M492.5,543.3 L482.2,543.3 L482.2,616.9 L492.5,616.9" fill="none" stroke="#2e2e2e" stroke-width="1.25"/>
<g font-size="18.6">
<text x="9" y="561.6">Type of connector</text>
<text x="104.2" y="597.6">T = Tin-Lead</text>
<text x="103.8" y="615.6">H = Gold</text>
<text x="243.6" y="583.3">No. of Contacts</text>
<text x="408.8" y="616.8">Length</text>
<text x="498.8" y="557">Ribbon Cable</text>
<text x="498.8" y="575.3">R = Multi-color</text>
<text x="499.6" y="593.5">J = Gray</text>
<text x="498.8" y="611.9">K = Twisted Pair</text>
</g>
</g>
</svg>
</body></html>
